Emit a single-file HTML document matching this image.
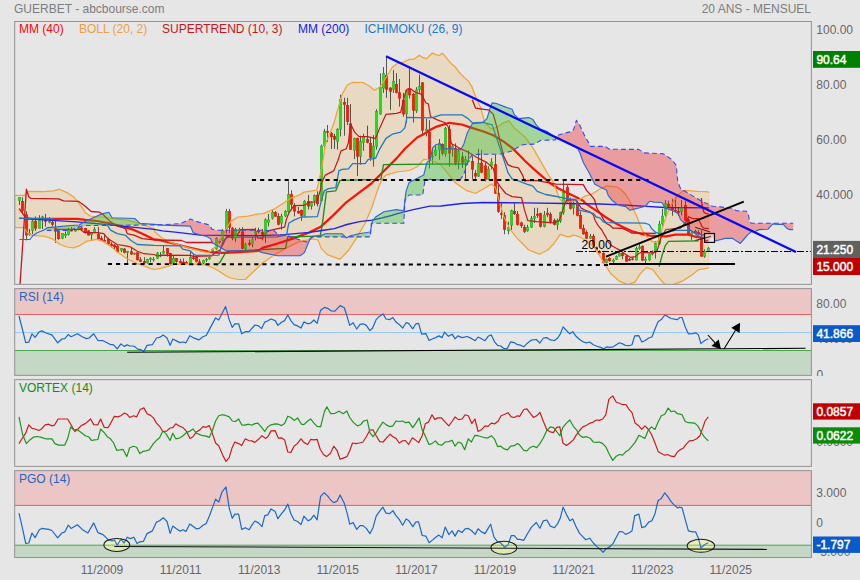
<!DOCTYPE html>
<html><head><meta charset="utf-8"><title>GUERBET</title>
<style>html,body{margin:0;padding:0;background:#e6e6e6}svg{display:block}</style></head>
<body>
<svg width="860" height="580" viewBox="0 0 860 580" font-family="Liberation Sans, sans-serif" font-size="12">
<rect width="860" height="580" fill="#e6e6e6"/>
<text x="14" y="12.5" fill="#7d7d7d">GUERBET - abcbourse.com</text>
<text x="811" y="12.5" fill="#7d7d7d" text-anchor="end">20 ANS - MENSUEL</text>
<defs>
<clipPath id="c_main"><rect x="14.7" y="21.5" width="796.6999999999999" height="262.85"/></clipPath>
<clipPath id="c_rsi"><rect x="14.7" y="288.65" width="796.6999999999999" height="86.70000000000005"/></clipPath>
<clipPath id="c_vor"><rect x="14.7" y="379.65" width="796.6999999999999" height="86.70000000000005"/></clipPath>
<clipPath id="c_pgo"><rect x="14.7" y="470.65" width="796.6999999999999" height="86.85000000000002"/></clipPath>
</defs>
<rect x="14.7" y="288.65" width="796.6999999999999" height="25.850000000000023" fill="#ecc5c5"/>
<rect x="14.7" y="350.5" width="796.6999999999999" height="24.850000000000023" fill="#c5d8c5"/>
<rect x="14.7" y="470.65" width="796.6999999999999" height="34.75" fill="#ecc5c5"/>
<rect x="14.7" y="545.2" width="796.6999999999999" height="12.299999999999955" fill="#c5d8c5"/>
<line x1="14.7" x2="811.4" y1="314.5" y2="314.5" stroke="#e86060" stroke-width="1"/>
<line x1="14.7" x2="811.4" y1="332.5" y2="332.5" stroke="#9ccbfa" stroke-width="1"/>
<line x1="14.7" x2="811.4" y1="350.5" y2="350.5" stroke="#4aa64a" stroke-width="1"/>
<line x1="14.7" x2="811.4" y1="505.4" y2="505.4" stroke="#e86060" stroke-width="1"/>
<line x1="14.7" x2="811.4" y1="545.2" y2="545.2" stroke="#4aa64a" stroke-width="1"/>
<g clip-path="url(#c_main)">
<polygon points="14.7,195.4 14.7,195.4 24.2,195.4 26.7,192.6 29.3,191.4 43.5,191.7 53.5,190.9 59.4,189.2 66.9,192.6 73.6,196.7 80.3,205.1 85.4,212.7 90.4,216.0 97.1,216.8 103.8,217.2 113.8,218.8 127.2,220.2 140.6,223.9 154.0,228.6 155.0,232.1 162.6,238.4 166.4,240.2 170.1,242.1 180.2,245.3 190.3,248.4 200.4,250.9 207.9,252.6 210.4,251.6 215.5,246.5 220.5,239.0 225.5,230.2 230.6,221.4 238.1,217.0 248.2,216.1 258.0,213.8 262.6,213.8 275.1,208.6 284.0,202.8 291.6,197.8 299.1,195.2 304.1,192.1 316.7,190.2 319.2,180.1 321.8,167.6 323.0,160.0 325.3,144.6 333.7,123.7 337.9,109.1 342.1,94.4 347.3,85.0 352.6,82.3 363.0,82.5 369.3,86.0 374.5,90.2 379.8,87.1 386.0,77.7 392.3,67.2 398.6,62.6 400.0,63.0 404.2,61.8 409.2,59.4 413.4,59.4 419.4,55.2 422.6,57.4 426.4,58.6 432.2,53.2 436.0,54.7 439.4,55.5 442.3,53.2 446.9,58.4 451.9,64.3 455.3,66.8 458.6,71.8 463.7,76.9 468.7,81.5 472.0,86.9 474.4,93.5 480.7,108.1 484.9,122.8 491.2,129.1 497.4,127.0 503.7,122.8 508.9,120.7 514.2,128.0 520.5,133.3 524.6,136.4 533.0,147.9 541.4,162.6 549.8,177.2 552.9,181.0 556.0,189.3 559.2,197.7 562.3,201.9 570.7,201.9 579.1,199.8 585.0,196.1 590.6,194.7 596.2,191.4 599.0,189.5 606.7,185.9 617.2,187.0 621.3,190.0 625.0,193.7 628.8,199.3 631.6,204.9 634.3,211.4 637.1,217.0 639.9,224.5 642.7,231.0 646.5,236.6 651.1,240.8 655.8,242.6 658.6,240.3 660.4,234.7 663.5,224.3 667.7,212.5 672.8,202.4 677.8,195.6 682.0,191.4 685.4,190.4 697.3,191.4 705.7,191.6 708.9,192.2 708.9,268.0 698.8,269.6 690.5,275.9 682.1,281.2 673.7,284.3 665.3,284.7 659.1,278.0 652.8,269.6 646.5,267.6 640.2,273.8 635.0,282.2 627.7,284.7 619.3,281.2 610.9,273.8 607.1,268.0 604.0,263.4 601.4,258.4 597.7,252.8 595.2,248.4 590.8,244.0 585.7,240.2 579.4,236.7 573.8,235.1 570.0,236.7 566.5,236.4 560.2,234.3 553.9,243.7 547.7,250.0 539.3,254.2 528.8,250.0 522.6,243.7 516.3,237.4 510.0,229.1 503.7,216.5 499.5,201.9 495.3,187.2 491.2,184.1 482.8,189.3 475.5,193.5 466.0,190.3 455.6,183.0 447.2,172.6 439.9,164.2 430.0,160.0 423.7,159.4 417.4,166.7 409.1,170.5 396.5,172.0 386.0,175.1 381.9,179.3 377.7,189.8 371.4,208.6 365.1,223.3 356.7,237.9 348.4,250.5 340.0,259.3 327.4,254.6 321.2,248.4 318.0,240.0 312.8,238.9 298.1,242.1 285.6,248.4 273.0,255.7 262.6,263.0 254.2,271.0 245.7,279.3 238.1,279.5 230.6,278.0 225.5,275.5 218.0,270.5 210.4,266.7 205.4,264.8 190.3,263.9 175.2,264.2 170.1,265.4 162.6,267.9 155.0,269.5 150.0,268.6 147.3,267.1 137.3,263.7 127.2,258.7 117.2,252.0 110.5,246.1 103.8,242.0 97.1,239.4 87.0,241.1 80.3,245.3 73.6,247.8 66.9,247.0 60.2,244.5 51.9,238.6 43.5,236.1 31.8,235.3 26.7,231.9 24.2,227.7 14.7,227.7 14.7,227.7" fill="#ecb45c" fill-opacity="0.26"/>
<rect x="19" y="197.3" width="1" height="7.6" fill="#000" fill-opacity="0.62"/>
<rect x="18.25" y="197.6" width="2.5" height="2.9" fill="#14e614" stroke="#2aa82a" stroke-width="0.5"/>
<rect x="22" y="197.3" width="1" height="16.0" fill="#000" fill-opacity="0.62"/>
<rect x="21.25" y="201.3" width="2.5" height="9.2" fill="#ff1a05" stroke="#d41606" stroke-width="0.5"/>
<rect x="26" y="211.4" width="1" height="29.0" fill="#000" fill-opacity="0.62"/>
<rect x="25.25" y="214.8" width="2.5" height="20.3" fill="#ff1a05" stroke="#d41606" stroke-width="0.5"/>
<rect x="29" y="229.0" width="1" height="6.9" fill="#000" fill-opacity="0.62"/>
<rect x="28.25" y="233.4" width="2.5" height="0.8" fill="#14e614" stroke="#2aa82a" stroke-width="0.5"/>
<rect x="32" y="219.6" width="1" height="14.5" fill="#000" fill-opacity="0.62"/>
<rect x="31.25" y="221.5" width="2.5" height="8.8" fill="#14e614" stroke="#2aa82a" stroke-width="0.5"/>
<rect x="35" y="216.4" width="1" height="14.5" fill="#000" fill-opacity="0.62"/>
<rect x="34.25" y="221.1" width="2.5" height="7.1" fill="#ff1a05" stroke="#d41606" stroke-width="0.5"/>
<rect x="39" y="215.2" width="1" height="13.2" fill="#000" fill-opacity="0.62"/>
<rect x="38.25" y="220.5" width="2.5" height="7.7" fill="#14e614" stroke="#2aa82a" stroke-width="0.5"/>
<rect x="42" y="215.8" width="1" height="13.2" fill="#000" fill-opacity="0.62"/>
<rect x="41.25" y="216.9" width="2.5" height="1.1" fill="#14e614" stroke="#2aa82a" stroke-width="0.5"/>
<rect x="45" y="213.9" width="1" height="12.6" fill="#000" fill-opacity="0.62"/>
<rect x="44.25" y="219.5" width="2.5" height="1.8" fill="#ff1a05" stroke="#d41606" stroke-width="0.5"/>
<rect x="49" y="217.1" width="1" height="6.3" fill="#000" fill-opacity="0.62"/>
<rect x="48.25" y="221.5" width="2.5" height="0.8" fill="#14e614" stroke="#2aa82a" stroke-width="0.5"/>
<rect x="52" y="220.8" width="1" height="5.7" fill="#000" fill-opacity="0.62"/>
<rect x="51.25" y="222.3" width="2.5" height="2.0" fill="#ff1a05" stroke="#d41606" stroke-width="0.5"/>
<rect x="55" y="219.6" width="1" height="23.3" fill="#000" fill-opacity="0.62"/>
<rect x="54.25" y="228.6" width="2.5" height="2.6" fill="#ff1a05" stroke="#d41606" stroke-width="0.5"/>
<rect x="58" y="230.3" width="1" height="9.4" fill="#000" fill-opacity="0.62"/>
<rect x="57.25" y="231.5" width="2.5" height="7.3" fill="#ff1a05" stroke="#d41606" stroke-width="0.5"/>
<rect x="62" y="233.4" width="1" height="5.7" fill="#000" fill-opacity="0.62"/>
<rect x="61.25" y="233.7" width="2.5" height="4.5" fill="#14e614" stroke="#2aa82a" stroke-width="0.5"/>
<rect x="65" y="231.5" width="1" height="6.3" fill="#000" fill-opacity="0.62"/>
<rect x="64.25" y="234.3" width="2.5" height="1.0" fill="#14e614" stroke="#2aa82a" stroke-width="0.5"/>
<rect x="68" y="227.8" width="1" height="7.6" fill="#000" fill-opacity="0.62"/>
<rect x="67.25" y="229.5" width="2.5" height="4.9" fill="#14e614" stroke="#2aa82a" stroke-width="0.5"/>
<rect x="71" y="227.1" width="1" height="4.4" fill="#000" fill-opacity="0.62"/>
<rect x="70.25" y="229.9" width="2.5" height="1.1" fill="#ff1a05" stroke="#d41606" stroke-width="0.5"/>
<rect x="75" y="229.0" width="1" height="2.5" fill="#000" fill-opacity="0.62"/>
<rect x="74.25" y="230.3" width="2.5" height="0.8" fill="#14e614" stroke="#2aa82a" stroke-width="0.5"/>
<rect x="78" y="226.3" width="1" height="4.0" fill="#000" fill-opacity="0.62"/>
<rect x="77.25" y="227.4" width="2.5" height="2.0" fill="#14e614" stroke="#2aa82a" stroke-width="0.5"/>
<rect x="81" y="227.1" width="1" height="3.8" fill="#000" fill-opacity="0.62"/>
<rect x="80.25" y="228.0" width="2.5" height="1.4" fill="#ff1a05" stroke="#d41606" stroke-width="0.5"/>
<rect x="85" y="227.8" width="1" height="5.7" fill="#000" fill-opacity="0.62"/>
<rect x="84.25" y="228.6" width="2.5" height="3.9" fill="#ff1a05" stroke="#d41606" stroke-width="0.5"/>
<rect x="88" y="230.0" width="1" height="5.5" fill="#000" fill-opacity="0.62"/>
<rect x="87.25" y="230.8" width="2.5" height="4.3" fill="#ff1a05" stroke="#d41606" stroke-width="0.5"/>
<rect x="91" y="232.2" width="1" height="7.6" fill="#000" fill-opacity="0.62"/>
<rect x="90.25" y="233.3" width="2.5" height="1.5" fill="#14e614" stroke="#2aa82a" stroke-width="0.5"/>
<rect x="94" y="227.1" width="1" height="6.3" fill="#000" fill-opacity="0.62"/>
<rect x="93.25" y="229.5" width="2.5" height="3.0" fill="#14e614" stroke="#2aa82a" stroke-width="0.5"/>
<rect x="98" y="227.1" width="1" height="12.6" fill="#000" fill-opacity="0.62"/>
<rect x="97.25" y="234.3" width="2.5" height="4.5" fill="#ff1a05" stroke="#d41606" stroke-width="0.5"/>
<rect x="101" y="235.9" width="1" height="4.7" fill="#000" fill-opacity="0.62"/>
<rect x="100.25" y="238.7" width="2.5" height="1.4" fill="#ff1a05" stroke="#d41606" stroke-width="0.5"/>
<rect x="104" y="234.1" width="1" height="6.9" fill="#000" fill-opacity="0.62"/>
<rect x="103.25" y="240.4" width="2.5" height="0.8" fill="#ff1a05" stroke="#d41606" stroke-width="0.5"/>
<rect x="108" y="237.8" width="1" height="7.6" fill="#000" fill-opacity="0.62"/>
<rect x="107.25" y="239.3" width="2.5" height="4.5" fill="#ff1a05" stroke="#d41606" stroke-width="0.5"/>
<rect x="111" y="242.2" width="1" height="5.0" fill="#000" fill-opacity="0.62"/>
<rect x="110.25" y="244.4" width="2.5" height="1.4" fill="#ff1a05" stroke="#d41606" stroke-width="0.5"/>
<rect x="114" y="244.1" width="1" height="5.0" fill="#000" fill-opacity="0.62"/>
<rect x="113.25" y="245.0" width="2.5" height="2.0" fill="#ff1a05" stroke="#d41606" stroke-width="0.5"/>
<rect x="117" y="245.2" width="1" height="7.6" fill="#000" fill-opacity="0.62"/>
<rect x="116.25" y="246.5" width="2.5" height="5.4" fill="#ff1a05" stroke="#d41606" stroke-width="0.5"/>
<rect x="121" y="248.0" width="1" height="4.2" fill="#000" fill-opacity="0.62"/>
<rect x="120.25" y="248.6" width="2.5" height="2.0" fill="#14e614" stroke="#2aa82a" stroke-width="0.5"/>
<rect x="124" y="248.0" width="1" height="5.4" fill="#000" fill-opacity="0.62"/>
<rect x="123.25" y="249.0" width="2.5" height="3.5" fill="#ff1a05" stroke="#d41606" stroke-width="0.5"/>
<rect x="127" y="250.9" width="1" height="12.6" fill="#000" fill-opacity="0.62"/>
<rect x="126.25" y="251.5" width="2.5" height="1.0" fill="#14e614" stroke="#2aa82a" stroke-width="0.5"/>
<rect x="131" y="247.1" width="1" height="7.6" fill="#000" fill-opacity="0.62"/>
<rect x="130.25" y="251.8" width="2.5" height="2.3" fill="#ff1a05" stroke="#d41606" stroke-width="0.5"/>
<rect x="134" y="252.5" width="1" height="2.3" fill="#000" fill-opacity="0.62"/>
<rect x="133.25" y="253.3" width="2.5" height="0.9" fill="#14e614" stroke="#2aa82a" stroke-width="0.5"/>
<rect x="137" y="252.1" width="1" height="8.4" fill="#000" fill-opacity="0.62"/>
<rect x="136.25" y="252.8" width="2.5" height="7.1" fill="#ff1a05" stroke="#d41606" stroke-width="0.5"/>
<rect x="140" y="257.2" width="1" height="5.0" fill="#000" fill-opacity="0.62"/>
<rect x="139.25" y="259.9" width="2.5" height="1.4" fill="#ff1a05" stroke="#d41606" stroke-width="0.5"/>
<rect x="144" y="257.2" width="1" height="6.3" fill="#000" fill-opacity="0.62"/>
<rect x="143.25" y="261.6" width="2.5" height="1.3" fill="#ff1a05" stroke="#d41606" stroke-width="0.5"/>
<rect x="147" y="258.8" width="1" height="4.7" fill="#000" fill-opacity="0.62"/>
<rect x="146.25" y="259.6" width="2.5" height="3.3" fill="#14e614" stroke="#2aa82a" stroke-width="0.5"/>
<rect x="150" y="257.2" width="1" height="5.0" fill="#000" fill-opacity="0.62"/>
<rect x="149.25" y="258.3" width="2.5" height="1.1" fill="#14e614" stroke="#2aa82a" stroke-width="0.5"/>
<rect x="153" y="257.2" width="1" height="4.4" fill="#000" fill-opacity="0.62"/>
<rect x="152.25" y="259.2" width="2.5" height="0.8" fill="#14e614" stroke="#2aa82a" stroke-width="0.5"/>
<rect x="157" y="252.1" width="1" height="6.7" fill="#000" fill-opacity="0.62"/>
<rect x="156.25" y="253.0" width="2.5" height="5.2" fill="#14e614" stroke="#2aa82a" stroke-width="0.5"/>
<rect x="160" y="252.1" width="1" height="5.0" fill="#000" fill-opacity="0.62"/>
<rect x="159.25" y="255.3" width="2.5" height="0.8" fill="#14e614" stroke="#2aa82a" stroke-width="0.5"/>
<rect x="163" y="245.2" width="1" height="8.6" fill="#000" fill-opacity="0.62"/>
<rect x="162.25" y="251.5" width="2.5" height="1.6" fill="#14e614" stroke="#2aa82a" stroke-width="0.5"/>
<rect x="167" y="248.0" width="1" height="8.6" fill="#000" fill-opacity="0.62"/>
<rect x="166.25" y="248.6" width="2.5" height="5.2" fill="#ff1a05" stroke="#d41606" stroke-width="0.5"/>
<rect x="170" y="252.8" width="1" height="12.0" fill="#000" fill-opacity="0.62"/>
<rect x="169.25" y="253.6" width="2.5" height="10.2" fill="#ff1a05" stroke="#d41606" stroke-width="0.5"/>
<rect x="173" y="255.9" width="1" height="8.2" fill="#000" fill-opacity="0.62"/>
<rect x="172.25" y="258.7" width="2.5" height="4.5" fill="#14e614" stroke="#2aa82a" stroke-width="0.5"/>
<rect x="176" y="258.1" width="1" height="4.5" fill="#000" fill-opacity="0.62"/>
<rect x="175.25" y="258.7" width="2.5" height="2.9" fill="#ff1a05" stroke="#d41606" stroke-width="0.5"/>
<rect x="180" y="258.8" width="1" height="4.7" fill="#000" fill-opacity="0.62"/>
<rect x="179.25" y="261.6" width="2.5" height="1.3" fill="#ff1a05" stroke="#d41606" stroke-width="0.5"/>
<rect x="183" y="258.4" width="1" height="5.0" fill="#000" fill-opacity="0.62"/>
<rect x="182.25" y="262.1" width="2.5" height="0.8" fill="#ff1a05" stroke="#d41606" stroke-width="0.5"/>
<rect x="186" y="260.9" width="1" height="3.1" fill="#000" fill-opacity="0.62"/>
<rect x="185.25" y="262.5" width="2.5" height="0.8" fill="#ff1a05" stroke="#d41606" stroke-width="0.5"/>
<rect x="190" y="250.9" width="1" height="13.0" fill="#000" fill-opacity="0.62"/>
<rect x="189.25" y="257.4" width="2.5" height="5.8" fill="#14e614" stroke="#2aa82a" stroke-width="0.5"/>
<rect x="193" y="254.0" width="1" height="5.7" fill="#000" fill-opacity="0.62"/>
<rect x="192.25" y="257.8" width="2.5" height="1.0" fill="#ff1a05" stroke="#d41606" stroke-width="0.5"/>
<rect x="196" y="256.5" width="1" height="6.0" fill="#000" fill-opacity="0.62"/>
<rect x="195.25" y="257.4" width="2.5" height="3.9" fill="#ff1a05" stroke="#d41606" stroke-width="0.5"/>
<rect x="199" y="259.1" width="1" height="4.4" fill="#000" fill-opacity="0.62"/>
<rect x="198.25" y="261.8" width="2.5" height="0.8" fill="#ff1a05" stroke="#d41606" stroke-width="0.5"/>
<rect x="203" y="259.7" width="1" height="4.4" fill="#000" fill-opacity="0.62"/>
<rect x="202.25" y="260.6" width="2.5" height="2.6" fill="#14e614" stroke="#2aa82a" stroke-width="0.5"/>
<rect x="206" y="257.8" width="1" height="4.0" fill="#000" fill-opacity="0.62"/>
<rect x="205.25" y="259.3" width="2.5" height="0.8" fill="#14e614" stroke="#2aa82a" stroke-width="0.5"/>
<rect x="209" y="256.5" width="1" height="3.1" fill="#000" fill-opacity="0.62"/>
<rect x="208.25" y="257.4" width="2.5" height="1.6" fill="#14e614" stroke="#2aa82a" stroke-width="0.5"/>
<rect x="212" y="248.4" width="1" height="4.4" fill="#000" fill-opacity="0.62"/>
<rect x="211.25" y="249.5" width="2.5" height="2.0" fill="#14e614" stroke="#2aa82a" stroke-width="0.5"/>
<rect x="216" y="237.2" width="1" height="12.6" fill="#000" fill-opacity="0.62"/>
<rect x="215.25" y="238.7" width="2.5" height="10.2" fill="#14e614" stroke="#2aa82a" stroke-width="0.5"/>
<rect x="219" y="239.7" width="1" height="3.8" fill="#000" fill-opacity="0.62"/>
<rect x="218.25" y="241.2" width="2.5" height="0.8" fill="#ff1a05" stroke="#d41606" stroke-width="0.5"/>
<rect x="222" y="229.0" width="1" height="12.0" fill="#000" fill-opacity="0.62"/>
<rect x="221.25" y="230.8" width="2.5" height="9.3" fill="#14e614" stroke="#2aa82a" stroke-width="0.5"/>
<rect x="226" y="208.9" width="1" height="24.5" fill="#000" fill-opacity="0.62"/>
<rect x="225.25" y="211.4" width="2.5" height="17.4" fill="#14e614" stroke="#2aa82a" stroke-width="0.5"/>
<rect x="229" y="208.9" width="1" height="24.5" fill="#000" fill-opacity="0.62"/>
<rect x="228.25" y="211.4" width="2.5" height="15.9" fill="#ff1a05" stroke="#d41606" stroke-width="0.5"/>
<rect x="232" y="227.1" width="1" height="13.2" fill="#000" fill-opacity="0.62"/>
<rect x="231.25" y="228.0" width="2.5" height="10.1" fill="#ff1a05" stroke="#d41606" stroke-width="0.5"/>
<rect x="235" y="227.8" width="1" height="14.1" fill="#000" fill-opacity="0.62"/>
<rect x="234.25" y="229.3" width="2.5" height="9.1" fill="#14e614" stroke="#2aa82a" stroke-width="0.5"/>
<rect x="239" y="227.8" width="1" height="5.0" fill="#000" fill-opacity="0.62"/>
<rect x="238.25" y="229.3" width="2.5" height="1.4" fill="#14e614" stroke="#2aa82a" stroke-width="0.5"/>
<rect x="242" y="227.1" width="1" height="22.0" fill="#000" fill-opacity="0.62"/>
<rect x="241.25" y="231.8" width="2.5" height="16.5" fill="#ff1a05" stroke="#d41606" stroke-width="0.5"/>
<rect x="245" y="242.9" width="1" height="6.9" fill="#000" fill-opacity="0.62"/>
<rect x="244.25" y="244.4" width="2.5" height="3.9" fill="#14e614" stroke="#2aa82a" stroke-width="0.5"/>
<rect x="249" y="239.7" width="1" height="6.3" fill="#000" fill-opacity="0.62"/>
<rect x="248.25" y="243.1" width="2.5" height="1.4" fill="#ff1a05" stroke="#d41606" stroke-width="0.5"/>
<rect x="252" y="237.2" width="1" height="10.1" fill="#000" fill-opacity="0.62"/>
<rect x="251.25" y="239.1" width="2.5" height="4.8" fill="#14e614" stroke="#2aa82a" stroke-width="0.5"/>
<rect x="255" y="227.8" width="1" height="12.6" fill="#000" fill-opacity="0.62"/>
<rect x="254.25" y="231.2" width="2.5" height="2.6" fill="#14e614" stroke="#2aa82a" stroke-width="0.5"/>
<rect x="258" y="227.8" width="1" height="5.7" fill="#000" fill-opacity="0.62"/>
<rect x="257.25" y="230.5" width="2.5" height="1.4" fill="#ff1a05" stroke="#d41606" stroke-width="0.5"/>
<rect x="262" y="229.0" width="1" height="11.3" fill="#000" fill-opacity="0.62"/>
<rect x="261.25" y="232.4" width="2.5" height="3.3" fill="#ff1a05" stroke="#d41606" stroke-width="0.5"/>
<rect x="265" y="218.3" width="1" height="24.5" fill="#000" fill-opacity="0.62"/>
<rect x="264.25" y="219.8" width="2.5" height="14.6" fill="#14e614" stroke="#2aa82a" stroke-width="0.5"/>
<rect x="268" y="213.9" width="1" height="12.6" fill="#000" fill-opacity="0.62"/>
<rect x="267.25" y="219.8" width="2.5" height="2.6" fill="#14e614" stroke="#2aa82a" stroke-width="0.5"/>
<rect x="272" y="210.1" width="1" height="9.4" fill="#000" fill-opacity="0.62"/>
<rect x="271.25" y="212.3" width="2.5" height="5.8" fill="#14e614" stroke="#2aa82a" stroke-width="0.5"/>
<rect x="275" y="211.1" width="1" height="5.9" fill="#000" fill-opacity="0.62"/>
<rect x="274.25" y="212.7" width="2.5" height="3.5" fill="#ff1a05" stroke="#d41606" stroke-width="0.5"/>
<rect x="278" y="213.3" width="1" height="12.0" fill="#000" fill-opacity="0.62"/>
<rect x="277.25" y="216.7" width="2.5" height="7.7" fill="#ff1a05" stroke="#d41606" stroke-width="0.5"/>
<rect x="281" y="213.9" width="1" height="15.7" fill="#000" fill-opacity="0.62"/>
<rect x="280.25" y="216.4" width="2.5" height="6.7" fill="#14e614" stroke="#2aa82a" stroke-width="0.5"/>
<rect x="285" y="210.1" width="1" height="6.9" fill="#000" fill-opacity="0.62"/>
<rect x="284.25" y="211.4" width="2.5" height="4.5" fill="#14e614" stroke="#2aa82a" stroke-width="0.5"/>
<rect x="288" y="181.2" width="1" height="31.5" fill="#000" fill-opacity="0.62"/>
<rect x="287.25" y="194.7" width="2.5" height="17.1" fill="#14e614" stroke="#2aa82a" stroke-width="0.5"/>
<rect x="291" y="190.3" width="1" height="19.9" fill="#000" fill-opacity="0.62"/>
<rect x="290.25" y="194.7" width="2.5" height="9.6" fill="#ff1a05" stroke="#d41606" stroke-width="0.5"/>
<rect x="294" y="203.2" width="1" height="13.2" fill="#000" fill-opacity="0.62"/>
<rect x="293.25" y="205.6" width="2.5" height="5.5" fill="#ff1a05" stroke="#d41606" stroke-width="0.5"/>
<rect x="298" y="207.0" width="1" height="6.9" fill="#000" fill-opacity="0.62"/>
<rect x="297.25" y="211.4" width="2.5" height="1.6" fill="#ff1a05" stroke="#d41606" stroke-width="0.5"/>
<rect x="301" y="209.5" width="1" height="11.3" fill="#000" fill-opacity="0.62"/>
<rect x="300.25" y="210.4" width="2.5" height="5.2" fill="#ff1a05" stroke="#d41606" stroke-width="0.5"/>
<rect x="304" y="200.1" width="1" height="16.4" fill="#000" fill-opacity="0.62"/>
<rect x="303.25" y="201.3" width="2.5" height="14.2" fill="#14e614" stroke="#2aa82a" stroke-width="0.5"/>
<rect x="308" y="195.0" width="1" height="14.5" fill="#000" fill-opacity="0.62"/>
<rect x="307.25" y="201.6" width="2.5" height="4.5" fill="#ff1a05" stroke="#d41606" stroke-width="0.5"/>
<rect x="311" y="201.3" width="1" height="8.2" fill="#000" fill-opacity="0.62"/>
<rect x="310.25" y="202.2" width="2.5" height="3.9" fill="#14e614" stroke="#2aa82a" stroke-width="0.5"/>
<rect x="314" y="194.4" width="1" height="11.3" fill="#000" fill-opacity="0.62"/>
<rect x="313.25" y="195.5" width="2.5" height="5.3" fill="#14e614" stroke="#2aa82a" stroke-width="0.5"/>
<rect x="317" y="191.3" width="1" height="15.1" fill="#000" fill-opacity="0.62"/>
<rect x="316.25" y="195.5" width="2.5" height="8.3" fill="#ff1a05" stroke="#d41606" stroke-width="0.5"/>
<rect x="321" y="144.5" width="1" height="57.3" fill="#000" fill-opacity="0.62"/>
<rect x="320.25" y="146.1" width="2.5" height="54.6" fill="#14e614" stroke="#2aa82a" stroke-width="0.5"/>
<rect x="324" y="128.8" width="1" height="20.8" fill="#000" fill-opacity="0.62"/>
<rect x="323.25" y="131.6" width="2.5" height="14.0" fill="#14e614" stroke="#2aa82a" stroke-width="0.5"/>
<rect x="327" y="125.0" width="1" height="17.0" fill="#000" fill-opacity="0.62"/>
<rect x="326.25" y="131.3" width="2.5" height="1.0" fill="#ff1a05" stroke="#d41606" stroke-width="0.5"/>
<rect x="331" y="132.0" width="1" height="17.0" fill="#000" fill-opacity="0.62"/>
<rect x="330.25" y="133.5" width="2.5" height="3.3" fill="#ff1a05" stroke="#d41606" stroke-width="0.5"/>
<rect x="334" y="133.8" width="1" height="15.1" fill="#000" fill-opacity="0.62"/>
<rect x="333.25" y="136.6" width="2.5" height="2.6" fill="#ff1a05" stroke="#d41606" stroke-width="0.5"/>
<rect x="337" y="128.2" width="1" height="21.4" fill="#000" fill-opacity="0.62"/>
<rect x="336.25" y="129.3" width="2.5" height="12.1" fill="#14e614" stroke="#2aa82a" stroke-width="0.5"/>
<rect x="340" y="94.7" width="1" height="41.7" fill="#000" fill-opacity="0.62"/>
<rect x="339.25" y="99.3" width="2.5" height="29.8" fill="#14e614" stroke="#2aa82a" stroke-width="0.5"/>
<rect x="344" y="97.8" width="1" height="37.9" fill="#000" fill-opacity="0.62"/>
<rect x="343.25" y="102.5" width="2.5" height="2.1" fill="#ff1a05" stroke="#d41606" stroke-width="0.5"/>
<rect x="347" y="97.8" width="1" height="27.2" fill="#000" fill-opacity="0.62"/>
<rect x="346.25" y="105.3" width="2.5" height="16.2" fill="#ff1a05" stroke="#d41606" stroke-width="0.5"/>
<rect x="350" y="104.1" width="1" height="45.7" fill="#000" fill-opacity="0.62"/>
<rect x="349.25" y="123.8" width="2.5" height="25.6" fill="#ff1a05" stroke="#d41606" stroke-width="0.5"/>
<rect x="354" y="137.6" width="1" height="21.4" fill="#000" fill-opacity="0.62"/>
<rect x="353.25" y="138.5" width="2.5" height="12.1" fill="#14e614" stroke="#2aa82a" stroke-width="0.5"/>
<rect x="357" y="137.6" width="1" height="38.4" fill="#000" fill-opacity="0.62"/>
<rect x="356.25" y="138.5" width="2.5" height="17.8" fill="#ff1a05" stroke="#d41606" stroke-width="0.5"/>
<rect x="360" y="135.7" width="1" height="29.0" fill="#000" fill-opacity="0.62"/>
<rect x="359.25" y="141.6" width="2.5" height="14.6" fill="#14e614" stroke="#2aa82a" stroke-width="0.5"/>
<rect x="363" y="133.8" width="1" height="17.0" fill="#000" fill-opacity="0.62"/>
<rect x="362.25" y="137.2" width="2.5" height="5.2" fill="#14e614" stroke="#2aa82a" stroke-width="0.5"/>
<rect x="367" y="125.7" width="1" height="17.6" fill="#000" fill-opacity="0.62"/>
<rect x="366.25" y="139.4" width="2.5" height="3.0" fill="#ff1a05" stroke="#d41606" stroke-width="0.5"/>
<rect x="370" y="137.6" width="1" height="23.3" fill="#000" fill-opacity="0.62"/>
<rect x="369.25" y="143.5" width="2.5" height="14.0" fill="#ff1a05" stroke="#d41606" stroke-width="0.5"/>
<rect x="373" y="135.1" width="1" height="31.5" fill="#000" fill-opacity="0.62"/>
<rect x="372.25" y="146.7" width="2.5" height="10.8" fill="#14e614" stroke="#2aa82a" stroke-width="0.5"/>
<rect x="376" y="109.2" width="1" height="40.4" fill="#000" fill-opacity="0.62"/>
<rect x="375.25" y="111.3" width="2.5" height="34.8" fill="#14e614" stroke="#2aa82a" stroke-width="0.5"/>
<rect x="380" y="73.3" width="1" height="41.5" fill="#000" fill-opacity="0.62"/>
<rect x="379.25" y="87.4" width="2.5" height="26.6" fill="#14e614" stroke="#2aa82a" stroke-width="0.5"/>
<rect x="383" y="67.0" width="1" height="25.8" fill="#000" fill-opacity="0.62"/>
<rect x="382.25" y="73.5" width="2.5" height="14.6" fill="#14e614" stroke="#2aa82a" stroke-width="0.5"/>
<rect x="386" y="56.9" width="1" height="40.9" fill="#000" fill-opacity="0.62"/>
<rect x="385.25" y="75.4" width="2.5" height="14.0" fill="#ff1a05" stroke="#d41606" stroke-width="0.5"/>
<rect x="390" y="87.1" width="1" height="22.7" fill="#000" fill-opacity="0.62"/>
<rect x="389.25" y="88.0" width="2.5" height="3.3" fill="#ff1a05" stroke="#d41606" stroke-width="0.5"/>
<rect x="393" y="70.1" width="1" height="22.7" fill="#000" fill-opacity="0.62"/>
<rect x="392.25" y="81.5" width="2.5" height="7.9" fill="#14e614" stroke="#2aa82a" stroke-width="0.5"/>
<rect x="396" y="73.3" width="1" height="20.1" fill="#000" fill-opacity="0.62"/>
<rect x="395.25" y="84.5" width="2.5" height="8.1" fill="#ff1a05" stroke="#d41606" stroke-width="0.5"/>
<rect x="399" y="79.0" width="1" height="27.7" fill="#000" fill-opacity="0.62"/>
<rect x="398.25" y="92.8" width="2.5" height="5.4" fill="#ff1a05" stroke="#d41606" stroke-width="0.5"/>
<rect x="403" y="92.8" width="1" height="23.9" fill="#000" fill-opacity="0.62"/>
<rect x="402.25" y="100.0" width="2.5" height="14.0" fill="#ff1a05" stroke="#d41606" stroke-width="0.5"/>
<rect x="406" y="89.7" width="1" height="33.4" fill="#000" fill-opacity="0.62"/>
<rect x="405.25" y="90.5" width="2.5" height="23.4" fill="#14e614" stroke="#2aa82a" stroke-width="0.5"/>
<rect x="409" y="66.4" width="1" height="32.1" fill="#000" fill-opacity="0.62"/>
<rect x="408.25" y="88.6" width="2.5" height="6.4" fill="#ff1a05" stroke="#d41606" stroke-width="0.5"/>
<rect x="413" y="92.8" width="1" height="29.7" fill="#000" fill-opacity="0.62"/>
<rect x="412.25" y="94.3" width="2.5" height="15.9" fill="#ff1a05" stroke="#d41606" stroke-width="0.5"/>
<rect x="416" y="87.1" width="1" height="25.8" fill="#000" fill-opacity="0.62"/>
<rect x="415.25" y="89.9" width="2.5" height="20.9" fill="#14e614" stroke="#2aa82a" stroke-width="0.5"/>
<rect x="419" y="74.5" width="1" height="18.3" fill="#000" fill-opacity="0.62"/>
<rect x="418.25" y="86.5" width="2.5" height="2.9" fill="#14e614" stroke="#2aa82a" stroke-width="0.5"/>
<rect x="422" y="82.0" width="1" height="52.0" fill="#000" fill-opacity="0.62"/>
<rect x="421.25" y="82.8" width="2.5" height="47.4" fill="#ff1a05" stroke="#d41606" stroke-width="0.5"/>
<rect x="426" y="118.8" width="1" height="17.6" fill="#000" fill-opacity="0.62"/>
<rect x="425.25" y="129.2" width="2.5" height="1.4" fill="#14e614" stroke="#2aa82a" stroke-width="0.5"/>
<rect x="429" y="120.1" width="1" height="48.5" fill="#000" fill-opacity="0.62"/>
<rect x="428.25" y="132.3" width="2.5" height="27.8" fill="#ff1a05" stroke="#d41606" stroke-width="0.5"/>
<rect x="432" y="149.1" width="1" height="15.1" fill="#000" fill-opacity="0.62"/>
<rect x="431.25" y="156.2" width="2.5" height="0.8" fill="#14e614" stroke="#2aa82a" stroke-width="0.5"/>
<rect x="435" y="145.3" width="1" height="10.7" fill="#000" fill-opacity="0.62"/>
<rect x="434.25" y="150.6" width="2.5" height="4.5" fill="#14e614" stroke="#2aa82a" stroke-width="0.5"/>
<rect x="439" y="139.0" width="1" height="20.8" fill="#000" fill-opacity="0.62"/>
<rect x="438.25" y="143.6" width="2.5" height="6.4" fill="#14e614" stroke="#2aa82a" stroke-width="0.5"/>
<rect x="442" y="143.4" width="1" height="12.0" fill="#000" fill-opacity="0.62"/>
<rect x="441.25" y="144.3" width="2.5" height="8.9" fill="#ff1a05" stroke="#d41606" stroke-width="0.5"/>
<rect x="445" y="127.0" width="1" height="29.6" fill="#000" fill-opacity="0.62"/>
<rect x="444.25" y="128.3" width="2.5" height="25.6" fill="#14e614" stroke="#2aa82a" stroke-width="0.5"/>
<rect x="449" y="125.1" width="1" height="41.5" fill="#000" fill-opacity="0.62"/>
<rect x="448.25" y="129.2" width="2.5" height="24.0" fill="#ff1a05" stroke="#d41606" stroke-width="0.5"/>
<rect x="452" y="144.7" width="1" height="12.0" fill="#000" fill-opacity="0.62"/>
<rect x="451.25" y="146.2" width="2.5" height="2.6" fill="#14e614" stroke="#2aa82a" stroke-width="0.5"/>
<rect x="455" y="143.4" width="1" height="22.0" fill="#000" fill-opacity="0.62"/>
<rect x="454.25" y="148.7" width="2.5" height="14.6" fill="#ff1a05" stroke="#d41606" stroke-width="0.5"/>
<rect x="458" y="148.4" width="1" height="20.8" fill="#000" fill-opacity="0.62"/>
<rect x="457.25" y="151.2" width="2.5" height="10.8" fill="#14e614" stroke="#2aa82a" stroke-width="0.5"/>
<rect x="462" y="152.2" width="1" height="15.7" fill="#000" fill-opacity="0.62"/>
<rect x="461.25" y="156.9" width="2.5" height="5.8" fill="#ff1a05" stroke="#d41606" stroke-width="0.5"/>
<rect x="465" y="156.0" width="1" height="23.3" fill="#000" fill-opacity="0.62"/>
<rect x="464.25" y="159.6" width="2.5" height="2.4" fill="#14e614" stroke="#2aa82a" stroke-width="0.5"/>
<rect x="468" y="150.3" width="1" height="12.0" fill="#000" fill-opacity="0.62"/>
<rect x="467.25" y="160.3" width="2.5" height="1.1" fill="#14e614" stroke="#2aa82a" stroke-width="0.5"/>
<rect x="472" y="156.2" width="1" height="22.7" fill="#000" fill-opacity="0.62"/>
<rect x="471.25" y="161.3" width="2.5" height="7.9" fill="#ff1a05" stroke="#d41606" stroke-width="0.5"/>
<rect x="475" y="170.1" width="1" height="8.8" fill="#000" fill-opacity="0.62"/>
<rect x="474.25" y="173.5" width="2.5" height="2.6" fill="#ff1a05" stroke="#d41606" stroke-width="0.5"/>
<rect x="478" y="148.7" width="1" height="28.3" fill="#000" fill-opacity="0.62"/>
<rect x="477.25" y="163.4" width="2.5" height="12.7" fill="#14e614" stroke="#2aa82a" stroke-width="0.5"/>
<rect x="481" y="149.9" width="1" height="23.3" fill="#000" fill-opacity="0.62"/>
<rect x="480.25" y="163.0" width="2.5" height="9.3" fill="#ff1a05" stroke="#d41606" stroke-width="0.5"/>
<rect x="485" y="162.5" width="1" height="18.9" fill="#000" fill-opacity="0.62"/>
<rect x="484.25" y="165.9" width="2.5" height="13.3" fill="#ff1a05" stroke="#d41606" stroke-width="0.5"/>
<rect x="488" y="166.3" width="1" height="13.8" fill="#000" fill-opacity="0.62"/>
<rect x="487.25" y="169.1" width="2.5" height="10.2" fill="#14e614" stroke="#2aa82a" stroke-width="0.5"/>
<rect x="491" y="158.1" width="1" height="11.3" fill="#000" fill-opacity="0.62"/>
<rect x="490.25" y="162.1" width="2.5" height="3.9" fill="#14e614" stroke="#2aa82a" stroke-width="0.5"/>
<rect x="495" y="155.0" width="1" height="39.0" fill="#000" fill-opacity="0.62"/>
<rect x="494.25" y="164.7" width="2.5" height="28.5" fill="#ff1a05" stroke="#d41606" stroke-width="0.5"/>
<rect x="498" y="185.2" width="1" height="27.7" fill="#000" fill-opacity="0.62"/>
<rect x="497.25" y="193.6" width="2.5" height="17.8" fill="#ff1a05" stroke="#d41606" stroke-width="0.5"/>
<rect x="501" y="203.4" width="1" height="15.7" fill="#000" fill-opacity="0.62"/>
<rect x="500.25" y="213.4" width="2.5" height="1.1" fill="#ff1a05" stroke="#d41606" stroke-width="0.5"/>
<rect x="504" y="212.2" width="1" height="22.0" fill="#000" fill-opacity="0.62"/>
<rect x="503.25" y="215.6" width="2.5" height="14.0" fill="#ff1a05" stroke="#d41606" stroke-width="0.5"/>
<rect x="508" y="221.7" width="1" height="12.6" fill="#000" fill-opacity="0.62"/>
<rect x="507.25" y="227.6" width="2.5" height="3.3" fill="#14e614" stroke="#2aa82a" stroke-width="0.5"/>
<rect x="511" y="209.7" width="1" height="20.1" fill="#000" fill-opacity="0.62"/>
<rect x="510.25" y="210.6" width="2.5" height="14.6" fill="#14e614" stroke="#2aa82a" stroke-width="0.5"/>
<rect x="514" y="202.8" width="1" height="12.0" fill="#000" fill-opacity="0.62"/>
<rect x="513.25" y="211.2" width="2.5" height="2.6" fill="#ff1a05" stroke="#d41606" stroke-width="0.5"/>
<rect x="517" y="211.0" width="1" height="14.5" fill="#000" fill-opacity="0.62"/>
<rect x="516.25" y="214.4" width="2.5" height="10.2" fill="#ff1a05" stroke="#d41606" stroke-width="0.5"/>
<rect x="521" y="221.7" width="1" height="6.3" fill="#000" fill-opacity="0.62"/>
<rect x="520.25" y="222.9" width="2.5" height="2.9" fill="#ff1a05" stroke="#d41606" stroke-width="0.5"/>
<rect x="524" y="224.8" width="1" height="8.2" fill="#000" fill-opacity="0.62"/>
<rect x="523.25" y="227.6" width="2.5" height="3.9" fill="#ff1a05" stroke="#d41606" stroke-width="0.5"/>
<rect x="527" y="224.8" width="1" height="6.9" fill="#000" fill-opacity="0.62"/>
<rect x="526.25" y="227.6" width="2.5" height="3.3" fill="#14e614" stroke="#2aa82a" stroke-width="0.5"/>
<rect x="531" y="216.0" width="1" height="12.0" fill="#000" fill-opacity="0.62"/>
<rect x="530.25" y="218.4" width="2.5" height="8.7" fill="#14e614" stroke="#2aa82a" stroke-width="0.5"/>
<rect x="534" y="207.8" width="1" height="15.1" fill="#000" fill-opacity="0.62"/>
<rect x="533.25" y="216.6" width="2.5" height="2.0" fill="#14e614" stroke="#2aa82a" stroke-width="0.5"/>
<rect x="537" y="207.8" width="1" height="10.1" fill="#000" fill-opacity="0.62"/>
<rect x="536.25" y="214.1" width="2.5" height="1.3" fill="#ff1a05" stroke="#d41606" stroke-width="0.5"/>
<rect x="540" y="212.9" width="1" height="14.5" fill="#000" fill-opacity="0.62"/>
<rect x="539.25" y="213.7" width="2.5" height="12.7" fill="#ff1a05" stroke="#d41606" stroke-width="0.5"/>
<rect x="544" y="211.0" width="1" height="16.4" fill="#000" fill-opacity="0.62"/>
<rect x="543.25" y="215.0" width="2.5" height="11.5" fill="#14e614" stroke="#2aa82a" stroke-width="0.5"/>
<rect x="547" y="207.8" width="1" height="9.4" fill="#000" fill-opacity="0.62"/>
<rect x="546.25" y="213.1" width="2.5" height="1.4" fill="#ff1a05" stroke="#d41606" stroke-width="0.5"/>
<rect x="550" y="212.2" width="1" height="11.3" fill="#000" fill-opacity="0.62"/>
<rect x="549.25" y="214.4" width="2.5" height="7.1" fill="#ff1a05" stroke="#d41606" stroke-width="0.5"/>
<rect x="554" y="218.5" width="1" height="6.9" fill="#000" fill-opacity="0.62"/>
<rect x="553.25" y="220.7" width="2.5" height="3.9" fill="#ff1a05" stroke="#d41606" stroke-width="0.5"/>
<rect x="557" y="218.5" width="1" height="11.3" fill="#000" fill-opacity="0.62"/>
<rect x="556.25" y="220.7" width="2.5" height="3.9" fill="#14e614" stroke="#2aa82a" stroke-width="0.5"/>
<rect x="560" y="211.6" width="1" height="11.3" fill="#000" fill-opacity="0.62"/>
<rect x="559.25" y="212.5" width="2.5" height="8.3" fill="#14e614" stroke="#2aa82a" stroke-width="0.5"/>
<rect x="563" y="180.8" width="1" height="34.0" fill="#000" fill-opacity="0.62"/>
<rect x="562.25" y="192.3" width="2.5" height="20.3" fill="#14e614" stroke="#2aa82a" stroke-width="0.5"/>
<rect x="567" y="185.2" width="1" height="17.6" fill="#000" fill-opacity="0.62"/>
<rect x="566.25" y="187.3" width="2.5" height="14.6" fill="#ff1a05" stroke="#d41606" stroke-width="0.5"/>
<rect x="570" y="197.5" width="1" height="12.0" fill="#000" fill-opacity="0.62"/>
<rect x="569.25" y="200.9" width="2.5" height="7.7" fill="#ff1a05" stroke="#d41606" stroke-width="0.5"/>
<rect x="573" y="200.0" width="1" height="14.5" fill="#000" fill-opacity="0.62"/>
<rect x="572.25" y="204.1" width="2.5" height="3.9" fill="#14e614" stroke="#2aa82a" stroke-width="0.5"/>
<rect x="577" y="200.0" width="1" height="16.4" fill="#000" fill-opacity="0.62"/>
<rect x="576.25" y="202.8" width="2.5" height="12.7" fill="#ff1a05" stroke="#d41606" stroke-width="0.5"/>
<rect x="580" y="211.4" width="1" height="17.6" fill="#000" fill-opacity="0.62"/>
<rect x="579.25" y="215.4" width="2.5" height="13.1" fill="#ff1a05" stroke="#d41606" stroke-width="0.5"/>
<rect x="583" y="224.6" width="1" height="10.1" fill="#000" fill-opacity="0.62"/>
<rect x="582.25" y="228.6" width="2.5" height="5.4" fill="#ff1a05" stroke="#d41606" stroke-width="0.5"/>
<rect x="586" y="230.2" width="1" height="8.8" fill="#000" fill-opacity="0.62"/>
<rect x="585.25" y="232.4" width="2.5" height="5.8" fill="#ff1a05" stroke="#d41606" stroke-width="0.5"/>
<rect x="590" y="234.0" width="1" height="5.0" fill="#000" fill-opacity="0.62"/>
<rect x="589.25" y="236.2" width="2.5" height="2.0" fill="#14e614" stroke="#2aa82a" stroke-width="0.5"/>
<rect x="593" y="234.0" width="1" height="13.8" fill="#000" fill-opacity="0.62"/>
<rect x="592.25" y="236.2" width="2.5" height="10.8" fill="#ff1a05" stroke="#d41606" stroke-width="0.5"/>
<rect x="596" y="246.6" width="1" height="4.4" fill="#000" fill-opacity="0.62"/>
<rect x="595.25" y="247.5" width="2.5" height="2.6" fill="#ff1a05" stroke="#d41606" stroke-width="0.5"/>
<rect x="599" y="250.4" width="1" height="3.1" fill="#000" fill-opacity="0.62"/>
<rect x="598.25" y="251.3" width="2.5" height="1.6" fill="#ff1a05" stroke="#d41606" stroke-width="0.5"/>
<rect x="603" y="252.3" width="1" height="11.3" fill="#000" fill-opacity="0.62"/>
<rect x="602.25" y="253.4" width="2.5" height="9.3" fill="#ff1a05" stroke="#d41606" stroke-width="0.5"/>
<rect x="606" y="258.6" width="1" height="5.0" fill="#000" fill-opacity="0.62"/>
<rect x="605.25" y="259.4" width="2.5" height="3.3" fill="#14e614" stroke="#2aa82a" stroke-width="0.5"/>
<rect x="609" y="257.3" width="1" height="4.4" fill="#000" fill-opacity="0.62"/>
<rect x="608.25" y="258.2" width="2.5" height="2.6" fill="#ff1a05" stroke="#d41606" stroke-width="0.5"/>
<rect x="613" y="258.6" width="1" height="4.4" fill="#000" fill-opacity="0.62"/>
<rect x="612.25" y="260.1" width="2.5" height="1.4" fill="#14e614" stroke="#2aa82a" stroke-width="0.5"/>
<rect x="616" y="255.4" width="1" height="4.4" fill="#000" fill-opacity="0.62"/>
<rect x="615.25" y="256.6" width="2.5" height="2.6" fill="#14e614" stroke="#2aa82a" stroke-width="0.5"/>
<rect x="619" y="252.3" width="1" height="4.4" fill="#000" fill-opacity="0.62"/>
<rect x="618.25" y="253.4" width="2.5" height="2.6" fill="#14e614" stroke="#2aa82a" stroke-width="0.5"/>
<rect x="622" y="251.6" width="1" height="7.6" fill="#000" fill-opacity="0.62"/>
<rect x="621.25" y="253.4" width="2.5" height="2.4" fill="#ff1a05" stroke="#d41606" stroke-width="0.5"/>
<rect x="626" y="255.2" width="1" height="6.5" fill="#000" fill-opacity="0.62"/>
<rect x="625.25" y="256.1" width="2.5" height="5.2" fill="#ff1a05" stroke="#d41606" stroke-width="0.5"/>
<rect x="629" y="257.9" width="1" height="3.1" fill="#000" fill-opacity="0.62"/>
<rect x="628.25" y="259.4" width="2.5" height="0.8" fill="#ff1a05" stroke="#d41606" stroke-width="0.5"/>
<rect x="632" y="257.3" width="1" height="3.1" fill="#000" fill-opacity="0.62"/>
<rect x="631.25" y="258.9" width="2.5" height="0.8" fill="#ff1a05" stroke="#d41606" stroke-width="0.5"/>
<rect x="636" y="246.6" width="1" height="13.8" fill="#000" fill-opacity="0.62"/>
<rect x="635.25" y="248.4" width="2.5" height="11.6" fill="#14e614" stroke="#2aa82a" stroke-width="0.5"/>
<rect x="639" y="244.1" width="1" height="5.7" fill="#000" fill-opacity="0.62"/>
<rect x="638.25" y="247.1" width="2.5" height="1.5" fill="#14e614" stroke="#2aa82a" stroke-width="0.5"/>
<rect x="642" y="245.4" width="1" height="15.7" fill="#000" fill-opacity="0.62"/>
<rect x="641.25" y="246.2" width="2.5" height="14.0" fill="#ff1a05" stroke="#d41606" stroke-width="0.5"/>
<rect x="645" y="256.7" width="1" height="6.3" fill="#000" fill-opacity="0.62"/>
<rect x="644.25" y="259.4" width="2.5" height="1.0" fill="#14e614" stroke="#2aa82a" stroke-width="0.5"/>
<rect x="649" y="253.5" width="1" height="7.6" fill="#000" fill-opacity="0.62"/>
<rect x="648.25" y="254.4" width="2.5" height="5.5" fill="#14e614" stroke="#2aa82a" stroke-width="0.5"/>
<rect x="652" y="250.4" width="1" height="5.0" fill="#000" fill-opacity="0.62"/>
<rect x="651.25" y="253.2" width="2.5" height="0.8" fill="#14e614" stroke="#2aa82a" stroke-width="0.5"/>
<rect x="655" y="241.0" width="1" height="17.6" fill="#000" fill-opacity="0.62"/>
<rect x="654.25" y="243.7" width="2.5" height="7.1" fill="#14e614" stroke="#2aa82a" stroke-width="0.5"/>
<rect x="659" y="220.8" width="1" height="23.9" fill="#000" fill-opacity="0.62"/>
<rect x="658.25" y="224.2" width="2.5" height="19.6" fill="#14e614" stroke="#2aa82a" stroke-width="0.5"/>
<rect x="662" y="208.9" width="1" height="17.6" fill="#000" fill-opacity="0.62"/>
<rect x="661.25" y="216.1" width="2.5" height="7.7" fill="#14e614" stroke="#2aa82a" stroke-width="0.5"/>
<rect x="665" y="200.1" width="1" height="16.4" fill="#000" fill-opacity="0.62"/>
<rect x="664.25" y="203.5" width="2.5" height="11.5" fill="#14e614" stroke="#2aa82a" stroke-width="0.5"/>
<rect x="668" y="200.7" width="1" height="6.9" fill="#000" fill-opacity="0.62"/>
<rect x="667.25" y="204.1" width="2.5" height="2.6" fill="#ff1a05" stroke="#d41606" stroke-width="0.5"/>
<rect x="672" y="198.8" width="1" height="17.0" fill="#000" fill-opacity="0.62"/>
<rect x="671.25" y="207.2" width="2.5" height="2.6" fill="#ff1a05" stroke="#d41606" stroke-width="0.5"/>
<rect x="675" y="196.9" width="1" height="15.1" fill="#000" fill-opacity="0.62"/>
<rect x="674.25" y="210.4" width="2.5" height="0.8" fill="#ff1a05" stroke="#d41606" stroke-width="0.5"/>
<rect x="678" y="207.6" width="1" height="8.2" fill="#000" fill-opacity="0.62"/>
<rect x="677.25" y="211.6" width="2.5" height="0.8" fill="#ff1a05" stroke="#d41606" stroke-width="0.5"/>
<rect x="681" y="200.1" width="1" height="15.1" fill="#000" fill-opacity="0.62"/>
<rect x="680.25" y="207.9" width="2.5" height="3.3" fill="#14e614" stroke="#2aa82a" stroke-width="0.5"/>
<rect x="685" y="200.7" width="1" height="20.8" fill="#000" fill-opacity="0.62"/>
<rect x="684.25" y="205.4" width="2.5" height="15.2" fill="#ff1a05" stroke="#d41606" stroke-width="0.5"/>
<rect x="688" y="218.3" width="1" height="16.4" fill="#000" fill-opacity="0.62"/>
<rect x="687.25" y="219.8" width="2.5" height="14.0" fill="#ff1a05" stroke="#d41606" stroke-width="0.5"/>
<rect x="691" y="232.2" width="1" height="7.6" fill="#000" fill-opacity="0.62"/>
<rect x="690.25" y="233.0" width="2.5" height="2.0" fill="#14e614" stroke="#2aa82a" stroke-width="0.5"/>
<rect x="695" y="229.7" width="1" height="3.8" fill="#000" fill-opacity="0.62"/>
<rect x="694.25" y="231.5" width="2.5" height="0.8" fill="#ff1a05" stroke="#d41606" stroke-width="0.5"/>
<rect x="698" y="230.3" width="1" height="4.4" fill="#000" fill-opacity="0.62"/>
<rect x="697.25" y="232.4" width="2.5" height="0.8" fill="#ff1a05" stroke="#d41606" stroke-width="0.5"/>
<rect x="701" y="230.3" width="1" height="26.4" fill="#000" fill-opacity="0.62"/>
<rect x="700.25" y="238.7" width="2.5" height="17.5" fill="#ff1a05" stroke="#d41606" stroke-width="0.5"/>
<rect x="704" y="249.2" width="1" height="8.6" fill="#000" fill-opacity="0.62"/>
<rect x="703.25" y="251.7" width="2.5" height="4.8" fill="#14e614" stroke="#2aa82a" stroke-width="0.5"/>
<rect x="708" y="246.9" width="1" height="4.8" fill="#000" fill-opacity="0.62"/>
<rect x="707.25" y="248.2" width="2.5" height="2.6" fill="#14e614" stroke="#2aa82a" stroke-width="0.5"/>
<polyline points="25.9,218.2 31.8,218.8 56.9,218.8 77.0,218.8 85.4,219.9 97.1,221.0 110.5,223.5 123.9,226.9 133.9,229.9 144.0,234.4 154.0,239.4 160.1,240.2 170.1,242.8 180.2,245.3 190.3,247.8 200.4,250.1 207.9,251.6 215.5,252.6 225.5,252.8 238.1,252.2 258.0,250.9 262.6,247.9 275.1,244.2 291.9,238.9 308.6,232.7 321.2,226.4 333.7,214.9 346.3,202.3 358.8,192.9 371.4,183.5 383.9,170.9 396.5,158.4 404.9,148.8 417.4,137.3 423.7,134.2 430.0,130.0 436.7,126.6 449.3,122.8 461.9,124.5 470.2,127.4 482.8,131.2 493.3,135.3 503.7,141.6 512.1,147.9 520.5,156.3 524.6,160.5 533.0,168.4 541.4,175.7 549.8,183.0 558.1,188.3 566.5,192.4 574.9,196.6 583.2,200.8 585.0,203.0 590.6,206.8 598.0,211.9 605.5,217.0 612.9,221.7 622.2,226.8 631.6,231.0 640.9,233.8 650.2,235.6 659.5,236.1 666.4,236.3 675.2,234.7 687.8,234.7 694.0,236.3 700.4,237.6 704.1,238.1 708.7,239.0" fill="none" stroke="#f81408" stroke-width="2.2" stroke-linejoin="round" />
<polyline points="19.2,208.5 22.6,213.5 25.9,218.2" fill="none" stroke="#f81408" stroke-width="1.4" stroke-linejoin="round" />
<polyline points="14.7,195.4 14.7,195.4 24.2,195.4 26.7,192.6 29.3,191.4 43.5,191.7 53.5,190.9 59.4,189.2 66.9,192.6 73.6,196.7 80.3,205.1 85.4,212.7 90.4,216.0 97.1,216.8 103.8,217.2 113.8,218.8 127.2,220.2 140.6,223.9 154.0,228.6 155.0,232.1 162.6,238.4 166.4,240.2 170.1,242.1 180.2,245.3 190.3,248.4 200.4,250.9 207.9,252.6 210.4,251.6 215.5,246.5 220.5,239.0 225.5,230.2 230.6,221.4 238.1,217.0 248.2,216.1 258.0,213.8 262.6,213.8 275.1,208.6 284.0,202.8 291.6,197.8 299.1,195.2 304.1,192.1 316.7,190.2 319.2,180.1 321.8,167.6 323.0,160.0 325.3,144.6 333.7,123.7 337.9,109.1 342.1,94.4 347.3,85.0 352.6,82.3 363.0,82.5 369.3,86.0 374.5,90.2 379.8,87.1 386.0,77.7 392.3,67.2 398.6,62.6 400.0,63.0 404.2,61.8 409.2,59.4 413.4,59.4 419.4,55.2 422.6,57.4 426.4,58.6 432.2,53.2 436.0,54.7 439.4,55.5 442.3,53.2 446.9,58.4 451.9,64.3 455.3,66.8 458.6,71.8 463.7,76.9 468.7,81.5 472.0,86.9 474.4,93.5 480.7,108.1 484.9,122.8 491.2,129.1 497.4,127.0 503.7,122.8 508.9,120.7 514.2,128.0 520.5,133.3 524.6,136.4 533.0,147.9 541.4,162.6 549.8,177.2 552.9,181.0 556.0,189.3 559.2,197.7 562.3,201.9 570.7,201.9 579.1,199.8 585.0,196.1 590.6,194.7 596.2,191.4 599.0,189.5 606.7,185.9 617.2,187.0 621.3,190.0 625.0,193.7 628.8,199.3 631.6,204.9 634.3,211.4 637.1,217.0 639.9,224.5 642.7,231.0 646.5,236.6 651.1,240.8 655.8,242.6 658.6,240.3 660.4,234.7 663.5,224.3 667.7,212.5 672.8,202.4 677.8,195.6 682.0,191.4 685.4,190.4 697.3,191.4 705.7,191.6 708.9,192.2" fill="none" stroke="#f2a236" stroke-width="1.25" stroke-linejoin="round" />
<polyline points="14.7,227.7 14.7,227.7 24.2,227.7 26.7,231.9 31.8,235.3 43.5,236.1 51.9,238.6 60.2,244.5 66.9,247.0 73.6,247.8 80.3,245.3 87.0,241.1 97.1,239.4 103.8,242.0 110.5,246.1 117.2,252.0 127.2,258.7 137.3,263.7 147.3,267.1 150.0,268.6 155.0,269.5 162.6,267.9 170.1,265.4 175.2,264.2 190.3,263.9 205.4,264.8 210.4,266.7 218.0,270.5 225.5,275.5 230.6,278.0 238.1,279.5 245.7,279.3 254.2,271.0 262.6,263.0 273.0,255.7 285.6,248.4 298.1,242.1 312.8,238.9 318.0,240.0 321.2,248.4 327.4,254.6 340.0,259.3 348.4,250.5 356.7,237.9 365.1,223.3 371.4,208.6 377.7,189.8 381.9,179.3 386.0,175.1 396.5,172.0 409.1,170.5 417.4,166.7 423.7,159.4 430.0,160.0 439.9,164.2 447.2,172.6 455.6,183.0 466.0,190.3 475.5,193.5 482.8,189.3 491.2,184.1 495.3,187.2 499.5,201.9 503.7,216.5 510.0,229.1 516.3,237.4 522.6,243.7 528.8,250.0 539.3,254.2 547.7,250.0 553.9,243.7 560.2,234.3 566.5,236.4 570.0,236.7 573.8,235.1 579.4,236.7 585.7,240.2 590.8,244.0 595.2,248.4 597.7,252.8 601.4,258.4 604.0,263.4 607.1,268.0 610.9,273.8 619.3,281.2 627.7,284.7 635.0,282.2 640.2,273.8 646.5,267.6 652.8,269.6 659.1,278.0 665.3,284.7 673.7,284.3 682.1,281.2 690.5,275.9 698.8,269.6 708.9,268.0" fill="none" stroke="#f2a236" stroke-width="1.25" stroke-linejoin="round" />
<line x1="15" x2="15" y1="195.4" y2="227.7" stroke="#f0a64c" stroke-dasharray="1.5 1.5"/>
<line x1="708.9" x2="708.9" y1="192.2" y2="268.0" stroke="#f0a64c" stroke-opacity="0.45" stroke-dasharray="1.5 1.5"/>
<polyline points="20.0,284.7 26.4,189.2 28.8,196.7 30.9,198.4 58.6,198.8 63.6,200.9 78.7,201.4 83.7,205.1 91.2,211.5 99.6,212.2 103.8,215.2 108.0,219.4 110.5,221.9 117.2,226.0 125.5,228.6 127.2,233.6 134.7,235.3 142.3,238.6 154.0,239.9 181.5,240.5 186.5,242.5 212.9,242.5" fill="none" stroke="#c4161c" stroke-width="1.3" stroke-linejoin="round" />
<polyline points="472.3,99.8 475.5,108.1 489.1,110.2 493.3,114.4 497.4,129.1 500.6,143.7 503.7,156.3 507.9,164.6 512.1,166.7 518.4,167.8 522.6,175.1 524.6,181.0 527.8,180.3 537.2,180.7 556.0,184.1 583.2,184.7 586.9,190.9 590.6,194.7 594.3,199.3 597.1,208.6 600.8,214.2 603.6,219.8 606.4,223.5 610.1,225.4 612.9,228.0 622.2,228.4 626.0,230.0 631.6,233.0 655.8,233.3" fill="none" stroke="#c4161c" stroke-width="1.3" stroke-linejoin="round" />
<polyline points="701.4,198.0 702.0,205.0 703.6,211.7 705.7,213.4 708.7,213.8" fill="none" stroke="#c4161c" stroke-width="1.3" stroke-linejoin="round" />
<polyline points="216.7,265.4 219.9,262.3 225.5,252.8 227.4,251.3 285.6,248.4 287.7,236.9 320.1,236.2 322.2,225.3 326.4,191.9 335.8,190.8 340.0,180.3 380.8,179.3 383.5,164.7 430.0,164.2 468.1,164.0" fill="none" stroke="#1a8c1a" stroke-width="1.3" stroke-linejoin="round" />
<polyline points="659.1,266.5 662.2,255.0 665.3,245.6 668.5,241.4 698.8,240.8" fill="none" stroke="#1a8c1a" stroke-width="1.3" stroke-linejoin="round" />
<polyline points="19.2,218.2 43.5,219.9 77.0,221.9 110.5,224.9 154.0,229.4 162.6,230.8 175.2,232.1 187.8,233.7 200.4,235.2 258.0,235.6 281.4,234.8 309.2,232.4 321.8,230.5 334.4,228.6 346.9,224.5 359.5,221.7 372.1,220.2 382.2,217.9 392.0,215.4 396.5,213.8 413.2,209.6 430.0,206.1 440.9,206.0 461.9,203.5 482.8,202.5 524.6,202.9 566.5,203.5 600.0,204.0 621.4,204.8 665.3,207.5 708.9,207.9" fill="none" stroke="#2222e6" stroke-width="1.35" stroke-linejoin="round" />
<polyline points="55.2,229.4 80.3,229.4 84.5,232.7 97.1,232.7 103.8,233.6 107.1,237.8 110.5,240.3 117.2,244.5 127.2,246.1 130.6,247.0 137.3,251.2 144.0,253.7 154.0,254.5 157.6,256.0 161.3,255.1 190.3,255.4 193.4,256.4 211.7,256.0 216.0,251.7 219.8,250.4 223.6,242.9 226.7,236.6 231.1,235.9 237.4,234.7 240.5,229.7 255.0,229.3 257.5,237.8 262.6,238.5 265.7,232.8 270.1,230.3 284.6,227.1 286.5,219.0 289.0,212.7 294.0,205.7 304.1,205.4 309.2,202.0 316.7,202.0 319.2,193.8 320.5,190.0 321.2,183.5 325.3,175.1 333.7,170.9 337.9,160.5 341.0,150.9 346.3,148.8 348.4,142.6 350.5,123.7 354.6,132.1 358.8,136.3 367.2,136.7 375.6,138.4 379.8,127.9 386.0,114.3 396.5,113.3 400.7,112.2 404.9,94.4 407.0,89.2 411.2,89.2 415.3,92.3 421.6,94.4 425.8,102.8 428.4,104.0 430.5,116.5 436.7,119.6 445.1,122.8 448.3,127.0 451.4,143.7 455.6,145.8 458.7,147.9 468.1,152.1 478.6,158.4 487.0,162.6 493.3,168.4 496.4,180.9 500.6,187.2 505.8,193.5 512.1,196.6 521.5,197.7 524.6,210.2 527.8,220.7 537.2,221.7 553.9,222.8 559.2,220.7 563.4,208.1 566.5,199.8 575.9,199.8 581.2,208.1 585.0,210.0 590.6,212.3 593.4,215.1 595.2,220.7 598.0,225.4 601.8,230.0 605.5,236.6 608.3,242.1 611.5,245.4 616.6,248.5 620.4,250.4 625.4,254.2 630.4,257.3 635.5,256.7 638.6,253.5 641.8,252.3 651.8,252.9 656.9,251.6 659.4,242.8 661.0,238.0 663.0,234.0 666.0,229.5 680.4,228.2 683.7,224.3 686.3,221.8 688.4,216.7 690.5,217.6 692.2,218.4 698.1,218.6 699.8,221.8 701.9,226.5 704.0,228.2 708.7,228.6" fill="none" stroke="#c4161c" stroke-width="1.2" stroke-linejoin="round" />
<polyline points="106.3,223.5 110.5,230.2 117.2,233.6 125.5,235.3 130.6,240.3 137.3,244.5 154.0,245.3 180.2,245.9 182.7,249.1 190.3,250.9 194.1,254.7 196.6,255.4 211.7,255.4 219.0,255.1 221.0,247.3 223.5,240.4 228.0,237.2 258.0,237.2 277.2,236.9 286.6,234.8 288.7,223.3 294.0,220.1 301.3,217.0 317.4,216.6 321.2,201.3 324.3,190.8 328.5,188.7 335.8,187.7 338.9,170.9 342.1,169.3 348.4,168.8 352.6,163.6 365.1,163.6 368.3,159.3 375.6,158.3 379.8,148.8 386.0,138.4 392.3,134.2 400.7,132.1 404.9,127.9 407.0,117.4 430.0,117.9 432.6,117.6 440.9,114.8 461.9,114.8 468.1,118.6 472.3,122.8 482.8,122.4 492.2,124.9 496.4,137.4 500.6,150.0 504.8,162.6 507.9,172.6 512.1,178.8 518.4,180.9 526.7,184.1 533.0,186.2 537.2,191.4 545.6,194.5 553.9,196.0 562.3,197.7 566.5,198.7 575.9,199.3 579.1,210.2 585.0,211.4 593.4,213.3 596.2,217.0 599.9,217.9 603.6,222.1 607.3,222.6 644.6,223.1 649.2,224.5 652.0,229.1 655.8,232.4 659.5,233.6 664.0,233.0 675.3,230.3 690.5,230.3 693.0,232.0 695.6,232.8 702.0,234.5 708.7,236.0" fill="none" stroke="#1f78c8" stroke-width="1.3" stroke-linejoin="round" />
<polyline points="19.4,218.4 54.1,218.9" fill="none" stroke="#1f78c8" stroke-width="1.3" stroke-linejoin="round" />
<polygon points="46.7,228.3 47.2,228.0 47.7,227.7 48.2,227.6 48.7,227.5 49.2,227.5 49.7,227.4 50.2,227.4 50.7,227.4 51.2,227.3 51.7,227.3 52.2,227.3 52.7,227.2 53.2,227.2 53.7,227.1 54.2,227.1 54.7,227.0 55.2,227.0 55.7,226.9 56.2,226.9 56.7,226.9 57.2,226.8 57.7,226.8 58.2,226.7 58.7,226.7 59.2,226.6 59.7,226.6 60.2,226.5 60.7,226.5 61.2,226.4 61.7,226.4 62.2,226.3 62.7,226.3 63.2,226.2 63.7,226.2 64.2,226.1 64.7,226.1 65.2,226.0 65.7,226.0 66.2,225.9 66.7,225.9 67.2,225.9 67.7,225.8 68.2,225.8 68.7,225.7 69.2,225.7 69.7,225.6 70.2,225.6 70.7,225.5 71.2,225.5 71.7,225.5 72.2,225.4 72.7,225.4 73.2,225.4 73.7,225.3 74.2,225.3 74.7,225.3 75.2,225.2 75.7,225.2 76.2,225.2 76.7,225.2 77.2,225.1 77.7,225.1 78.2,225.1 78.7,225.0 79.2,225.0 79.7,224.7 80.2,224.4 80.7,224.1 81.2,223.8 81.7,223.5 82.2,223.1 82.7,222.8 83.2,222.5 83.7,222.2 84.2,222.0 84.7,221.7 85.2,221.4 85.7,221.2 86.2,220.9 86.7,220.7 87.2,220.4 87.7,220.2 88.2,220.0 88.7,219.8 89.2,219.5 89.7,219.3 90.2,219.1 90.7,218.9 91.2,218.7 91.7,218.4 92.2,218.2 92.7,218.0 93.2,217.8 93.7,217.6 94.2,217.3 94.7,217.1 95.2,216.9 95.7,216.7 96.2,216.5 96.7,216.2 97.2,216.0 97.7,215.8 98.2,215.6 98.7,215.4 99.2,215.1 99.7,214.9 100.2,214.7 100.7,214.5 101.2,214.3 101.7,214.0 102.2,213.9 102.7,213.7 103.2,213.6 103.7,213.5 104.2,213.4 104.7,213.3 105.2,213.1 105.7,213.0 106.2,212.9 106.7,212.8 107.2,212.7 107.7,212.6 108.2,212.4 108.7,212.3 109.2,213.0 109.7,213.8 110.2,214.6 110.7,215.4 111.2,216.2 111.7,217.0 112.2,217.7 112.7,217.7 113.2,217.7 113.7,217.8 114.2,217.8 114.7,217.8 115.2,217.8 115.7,217.8 116.2,217.8 116.7,217.9 117.2,217.9 117.7,217.9 118.2,217.9 118.7,217.9 119.2,218.0 119.7,218.0 120.2,218.0 120.7,218.0 121.2,218.0 121.7,218.0 122.2,218.1 122.7,218.1 123.2,218.1 123.7,218.1 124.2,218.1 124.7,218.1 125.2,218.2 125.7,218.2 126.2,218.2 126.7,218.2 127.2,218.2 127.7,218.3 128.2,218.3 128.7,218.3 129.2,218.3 129.7,218.3 130.2,218.3 130.7,218.4 131.2,218.4 131.7,218.4 132.2,218.4 132.7,218.4 133.2,218.4 133.7,218.5 134.2,218.5 134.7,218.5 135.2,219.0 135.7,219.4 136.2,219.9 136.7,220.3 137.2,220.8 137.7,221.3 138.2,221.7 138.7,222.2 139.2,222.6 139.7,223.1 140.2,223.2 140.7,223.3 141.2,223.3 141.7,223.4 142.2,223.4 142.7,223.4 143.2,223.5 143.7,223.5 144.2,223.6 144.7,223.6 145.2,223.7 145.7,223.7 146.2,223.7 146.7,223.8 147.2,223.8 147.7,223.9 148.2,223.9 148.7,224.0 149.2,224.0 149.7,224.0 150.2,224.1 150.7,224.1 151.2,224.2 151.7,224.2 152.2,224.2 152.7,224.3 153.2,224.3 153.7,224.4 154.2,224.4 154.7,224.5 155.2,224.5 155.7,224.5 156.2,224.6 156.7,224.6 157.2,224.7 157.7,224.7 158.2,224.7 158.7,224.8 159.2,224.8 159.7,224.9 160.2,224.9 160.2,224.9 159.7,224.9 159.2,224.9 158.7,224.9 158.2,224.9 157.7,224.9 157.2,224.9 156.7,224.9 156.2,224.9 155.7,224.9 155.2,224.9 154.7,224.9 154.2,224.9 153.7,224.9 153.2,224.9 152.7,224.9 152.2,224.9 151.7,224.9 151.2,224.9 150.7,224.9 150.2,224.9 149.7,224.9 149.2,225.0 148.7,225.0 148.2,225.0 147.7,225.0 147.2,225.0 146.7,225.0 146.2,225.0 145.7,225.0 145.2,225.0 144.7,225.0 144.2,225.0 143.7,225.0 143.2,225.0 142.7,225.0 142.2,225.0 141.7,225.0 141.2,225.0 140.7,225.1 140.2,225.1 139.7,225.1 139.2,225.1 138.7,225.1 138.2,225.1 137.7,225.1 137.2,225.1 136.7,225.1 136.2,225.1 135.7,225.1 135.2,225.1 134.7,225.1 134.2,225.1 133.7,225.1 133.2,225.1 132.7,225.1 132.2,225.2 131.7,225.2 131.2,225.2 130.7,225.2 130.2,225.2 129.7,225.2 129.2,225.2 128.7,225.2 128.2,225.2 127.7,225.2 127.2,225.2 126.7,225.2 126.2,225.2 125.7,225.2 125.2,225.2 124.7,225.2 124.2,225.2 123.7,225.2 123.2,225.3 122.7,225.3 122.2,225.3 121.7,225.3 121.2,225.3 120.7,225.3 120.2,225.3 119.7,225.3 119.2,225.3 118.7,225.3 118.2,225.3 117.7,225.3 117.2,225.3 116.7,225.3 116.2,225.3 115.7,225.3 115.2,225.3 114.7,225.4 114.2,225.4 113.7,225.4 113.2,225.4 112.7,225.4 112.2,225.4 111.7,225.4 111.2,225.4 110.7,225.4 110.2,225.4 109.7,225.4 109.2,225.4 108.7,225.4 108.2,225.4 107.7,225.4 107.2,225.4 106.7,225.4 106.2,225.5 105.7,225.5 105.2,225.5 104.7,225.5 104.2,225.5 103.7,225.5 103.2,225.5 102.7,225.5 102.2,225.5 101.7,225.5 101.2,225.5 100.7,225.5 100.2,225.5 99.7,225.5 99.2,225.5 98.7,225.5 98.2,225.5 97.7,225.5 97.2,225.5 96.7,225.5 96.2,225.5 95.7,225.5 95.2,225.5 94.7,225.5 94.2,225.5 93.7,225.5 93.2,225.5 92.7,225.5 92.2,225.5 91.7,225.5 91.2,225.5 90.7,225.5 90.2,225.5 89.7,225.5 89.2,225.5 88.7,225.5 88.2,225.5 87.7,225.5 87.2,225.5 86.7,225.5 86.2,225.5 85.7,225.5 85.2,225.5 84.7,225.5 84.2,225.6 83.7,225.7 83.2,225.9 82.7,226.0 82.2,226.2 81.7,226.3 81.2,226.4 80.7,226.6 80.2,226.7 79.7,226.8 79.2,227.0 78.7,227.1 78.2,227.3 77.7,227.4 77.2,227.5 76.7,227.7 76.2,227.8 75.7,227.9 75.2,228.1 74.7,228.3 74.2,228.6 73.7,228.9 73.2,229.1 72.7,229.4 72.2,229.7 71.7,230.0 71.2,230.2 70.7,230.4 70.2,230.4 69.7,230.4 69.2,230.4 68.7,230.4 68.2,230.4 67.7,230.4 67.2,230.4 66.7,230.4 66.2,230.4 65.7,230.4 65.2,230.4 64.7,230.4 64.2,230.4 63.7,230.4 63.2,230.4 62.7,230.4 62.2,230.4 61.7,230.4 61.2,230.4 60.7,230.4 60.2,230.4 59.7,230.4 59.2,230.4 58.7,230.4 58.2,230.4 57.7,230.4 57.2,230.4 56.7,230.4 56.2,230.4 55.7,230.4 55.2,230.4 54.7,230.4 54.2,230.4 53.7,230.4 53.2,230.4 52.7,230.4 52.2,230.4 51.7,230.4 51.2,230.4 50.7,230.4 50.2,230.4 49.7,230.4 49.2,230.4 48.7,230.4 48.2,230.4 47.7,230.4 47.2,230.4 46.7,230.4" fill="#32c02a" fill-opacity="0.38"/>
<polygon points="160.2,224.9 160.7,224.9 161.2,225.0 161.7,225.0 162.2,225.1 162.7,225.1 163.2,225.1 163.7,225.1 164.2,225.2 164.7,225.2 165.2,225.2 165.7,225.2 166.2,225.2 166.7,225.2 167.2,225.3 167.7,225.3 168.2,225.3 168.7,225.3 169.2,225.3 169.7,225.4 170.2,225.4 170.7,225.4 171.2,225.4 171.7,225.4 172.2,225.4 172.7,225.5 173.2,225.5 173.7,225.5 174.2,225.5 174.7,225.5 175.2,225.6 175.7,225.6 176.2,225.6 176.7,225.6 177.2,225.6 177.7,225.6 178.2,225.7 178.7,225.7 179.2,225.7 179.7,225.7 180.2,225.7 180.7,225.8 181.2,225.8 181.7,225.8 182.2,225.8 182.7,225.8 183.2,225.8 183.7,225.9 184.2,225.9 184.7,225.9 185.2,225.9 185.7,225.9 186.2,226.0 186.7,226.0 187.2,226.0 187.7,226.0 188.2,226.0 188.7,226.0 189.2,226.1 189.7,226.1 190.2,226.1 190.7,227.0 191.2,228.1 191.7,229.2 192.2,230.3 192.7,231.4 193.2,232.5 193.7,233.0 194.2,233.1 194.7,233.3 195.2,233.4 195.7,233.6 196.2,233.7 196.7,233.9 197.2,234.0 197.7,234.2 198.2,234.3 198.7,234.5 199.2,234.6 199.7,234.8 200.2,234.9 200.7,235.1 201.2,235.2 201.7,235.3 202.2,235.4 202.7,235.6 203.2,235.7 203.7,235.8 204.2,235.9 204.7,236.0 205.2,236.2 205.7,236.3 206.2,236.4 206.7,236.6 207.2,236.8 207.7,237.1 208.2,237.3 208.7,237.6 209.2,237.8 209.7,238.1 210.2,238.3 210.7,239.1 211.2,240.3 211.7,241.4 212.2,242.6 212.7,243.0 213.2,243.3 213.7,243.6 214.2,243.8 214.7,244.1 215.2,244.4 215.7,244.6 216.2,244.9 216.7,245.2 217.2,245.5 217.7,245.7 218.2,246.0 218.7,246.3 219.2,246.7 219.7,247.0 220.2,247.3 220.7,247.6 221.2,247.9 221.7,248.2 222.2,248.5 222.7,248.8 223.2,249.2 223.7,249.5 224.2,249.8 224.7,250.1 225.2,250.4 225.7,250.6 226.2,250.6 226.7,250.6 227.2,250.6 227.7,250.6 228.2,250.7 228.7,250.7 229.2,250.7 229.7,250.7 230.2,250.7 230.7,250.7 231.2,250.7 231.7,250.7 232.2,250.7 232.7,250.8 233.2,250.8 233.7,250.8 234.2,250.8 234.7,250.8 235.2,250.8 235.7,250.8 236.2,250.8 236.7,250.8 237.2,250.9 237.7,250.9 238.2,250.9 238.7,250.9 239.2,250.9 239.7,250.9 240.2,250.9 240.7,250.9 241.2,250.9 241.7,250.9 242.2,251.0 242.7,251.0 243.2,251.0 243.7,251.0 244.2,251.0 244.7,251.0 245.2,251.0 245.7,251.0 246.2,251.0 246.7,251.1 247.2,251.1 247.7,251.1 248.2,251.1 248.7,251.1 249.2,251.1 249.7,251.1 250.2,251.1 250.7,251.1 251.2,251.2 251.7,251.2 252.2,251.2 252.7,251.2 253.2,251.2 253.7,251.2 254.2,251.2 254.7,251.2 255.2,251.2 255.7,251.3 256.2,251.3 256.7,251.3 257.2,251.3 257.7,251.3 258.2,251.4 258.7,251.5 259.2,251.6 259.7,251.8 260.2,251.9 260.7,252.1 261.2,252.2 261.7,252.3 262.2,252.5 262.7,252.6 263.2,252.7 263.7,252.8 264.2,252.9 264.7,253.0 265.2,253.2 265.7,253.3 266.2,253.4 266.7,253.5 267.2,253.6 267.7,253.7 268.2,253.8 268.7,253.9 269.2,254.0 269.7,254.1 270.2,254.2 270.7,254.3 271.2,254.4 271.7,254.5 272.2,254.6 272.7,254.7 273.2,254.9 273.7,255.0 274.2,255.1 274.7,255.2 275.2,255.3 275.7,255.4 276.2,255.5 276.7,255.6 277.2,255.7 277.7,255.7 278.2,255.7 278.7,255.7 279.2,255.7 279.7,255.7 280.2,255.7 280.7,255.7 281.2,255.7 281.7,255.7 282.2,255.7 282.7,255.7 283.2,255.7 283.7,255.7 284.2,255.7 284.7,255.7 285.2,255.7 285.7,255.7 286.2,255.7 286.7,255.7 287.2,255.7 287.7,255.7 288.2,255.7 288.7,255.7 289.2,255.7 289.7,255.7 290.2,255.7 290.7,255.7 291.2,255.7 291.7,255.7 292.2,255.7 292.7,255.7 293.2,255.7 293.7,255.7 294.2,255.7 294.7,255.7 295.2,255.7 295.7,255.7 296.2,255.7 296.7,255.7 297.2,255.7 297.7,255.7 298.2,255.7 298.7,255.7 299.2,255.7 299.7,255.7 300.2,255.7 300.7,255.3 301.2,255.0 301.7,254.6 302.2,254.2 302.7,253.9 303.2,253.5 303.7,253.1 304.2,252.7 304.7,251.9 305.2,250.7 305.7,249.4 306.2,248.2 306.7,247.0 307.2,245.8 307.7,244.6 308.2,243.4 308.7,242.2 309.2,241.0 309.7,239.9 310.2,239.3 310.7,238.7 311.2,238.1 311.7,237.5 312.2,236.9 312.2,237.2 311.7,237.4 311.2,237.7 310.7,237.9 310.2,238.4 309.7,238.9 309.2,239.4 308.7,239.9 308.2,240.4 307.7,240.9 307.2,241.4 306.7,241.9 306.2,242.0 305.7,241.8 305.2,241.7 304.7,241.5 304.2,241.3 303.7,241.2 303.2,241.0 302.7,240.8 302.2,240.7 301.7,240.5 301.2,240.3 300.7,240.2 300.2,240.0 299.7,239.8 299.2,239.7 298.7,239.5 298.2,239.4 297.7,239.2 297.2,239.1 296.7,238.9 296.2,238.8 295.7,238.6 295.2,238.5 294.7,238.3 294.2,238.2 293.7,238.0 293.2,237.9 292.7,237.7 292.2,237.6 291.7,237.4 291.2,237.2 290.7,237.0 290.2,236.8 289.7,236.6 289.2,236.4 288.7,236.2 288.2,236.0 287.7,235.8 287.2,235.6 286.7,235.4 286.2,235.2 285.7,235.0 285.2,235.0 284.7,234.9 284.2,234.9 283.7,234.8 283.2,234.8 282.7,234.7 282.2,234.7 281.7,234.6 281.2,234.6 280.7,234.5 280.2,234.5 279.7,234.4 279.2,234.4 278.7,234.3 278.2,234.2 277.7,233.9 277.2,233.7 276.7,233.2 276.2,232.7 275.7,232.2 275.2,231.7 274.7,231.2 274.2,230.7 273.7,230.6 273.2,230.6 272.7,230.6 272.2,230.6 271.7,230.5 271.2,230.5 270.7,230.5 270.2,230.5 269.7,230.5 269.2,230.5 268.7,230.5 268.2,230.5 267.7,230.4 267.2,230.4 266.7,230.4 266.2,230.4 265.7,230.4 265.2,230.4 264.7,230.4 264.2,230.4 263.7,230.3 263.2,230.3 262.7,230.3 262.2,230.3 261.7,230.3 261.2,230.3 260.7,230.3 260.2,230.3 259.7,230.2 259.2,230.2 258.7,230.2 258.2,230.2 257.7,230.2 257.2,230.2 256.7,230.2 256.2,230.2 255.7,230.2 255.2,230.2 254.7,230.2 254.2,230.2 253.7,230.2 253.2,230.2 252.7,230.2 252.2,230.2 251.7,230.2 251.2,230.2 250.7,230.2 250.2,230.2 249.7,230.2 249.2,230.2 248.7,230.2 248.2,230.2 247.7,230.2 247.2,230.2 246.7,230.2 246.2,230.2 245.7,230.2 245.2,230.2 244.7,230.2 244.2,230.2 243.7,230.2 243.2,230.2 242.7,230.2 242.2,230.2 241.7,230.2 241.2,230.2 240.7,230.2 240.2,230.2 239.7,230.2 239.2,230.2 238.7,230.2 238.2,230.2 237.7,230.2 237.2,230.2 236.7,230.2 236.2,230.2 235.7,230.2 235.2,230.2 234.7,230.2 234.2,230.2 233.7,230.2 233.2,230.2 232.7,230.2 232.2,230.2 231.7,230.2 231.2,230.2 230.7,230.2 230.2,230.2 229.7,230.2 229.2,230.2 228.7,230.2 228.2,230.2 227.7,230.2 227.2,230.2 226.7,230.2 226.2,230.2 225.7,230.2 225.2,230.2 224.7,230.2 224.2,230.2 223.7,230.2 223.2,230.2 222.7,230.2 222.2,230.2 221.7,230.2 221.2,230.2 220.7,230.2 220.2,230.2 219.7,230.2 219.2,230.2 218.7,230.2 218.2,230.2 217.7,230.2 217.2,230.2 216.7,230.2 216.2,230.2 215.7,230.2 215.2,230.1 214.7,229.9 214.2,229.8 213.7,229.6 213.2,229.4 212.7,229.2 212.2,229.1 211.7,228.9 211.2,228.1 210.7,227.3 210.2,226.5 209.7,225.7 209.2,224.9 208.7,224.8 208.2,224.6 207.7,224.5 207.2,224.4 206.7,224.2 206.2,224.1 205.7,224.0 205.2,223.8 204.7,223.7 204.2,223.6 203.7,223.4 203.2,223.3 202.7,223.2 202.2,223.0 201.7,222.9 201.2,222.7 200.7,222.6 200.2,222.5 199.7,222.3 199.2,222.2 198.7,222.0 198.2,221.9 197.7,221.8 197.2,221.6 196.7,221.5 196.2,221.3 195.7,221.2 195.2,221.1 194.7,220.9 194.2,220.7 193.7,220.5 193.2,220.3 192.7,220.1 192.2,219.9 191.7,219.7 191.2,219.5 190.7,219.3 190.2,219.1 189.7,219.4 189.2,219.6 188.7,219.8 188.2,220.0 187.7,220.3 187.2,220.5 186.7,220.7 186.2,220.9 185.7,221.2 185.2,221.4 184.7,221.6 184.2,221.8 183.7,222.1 183.2,222.3 182.7,222.5 182.2,222.7 181.7,222.9 181.2,223.2 180.7,223.4 180.2,223.6 179.7,223.6 179.2,223.7 178.7,223.7 178.2,223.7 177.7,223.8 177.2,223.8 176.7,223.8 176.2,223.9 175.7,223.9 175.2,223.9 174.7,224.0 174.2,224.0 173.7,224.0 173.2,224.1 172.7,224.1 172.2,224.1 171.7,224.1 171.2,224.2 170.7,224.2 170.2,224.2 169.7,224.3 169.2,224.3 168.7,224.3 168.2,224.4 167.7,224.4 167.2,224.4 166.7,224.5 166.2,224.5 165.7,224.5 165.2,224.6 164.7,224.6 164.2,224.6 163.7,224.7 163.2,224.7 162.7,224.7 162.2,224.8 161.7,224.8 161.2,224.8 160.7,224.9 160.2,224.9" fill="#f40a14" fill-opacity="0.33"/>
<polygon points="312.2,236.9 312.7,236.3 313.2,236.2 313.7,236.1 314.2,236.1 314.7,236.0 315.2,236.0 315.7,235.9 316.2,235.9 316.7,235.8 317.2,235.8 317.7,235.7 318.2,235.7 318.7,235.6 319.2,235.6 319.7,235.5 320.2,235.5 320.7,235.4 321.2,235.4 321.7,235.2 322.2,235.0 322.7,234.8 323.2,234.6 323.7,234.4 324.2,234.2 324.7,233.9 325.2,233.7 325.7,233.7 326.2,233.7 326.7,233.7 327.2,233.7 327.7,233.7 328.2,233.7 328.7,233.7 329.2,233.7 329.7,233.7 330.2,233.7 330.7,233.7 331.2,233.7 331.7,233.7 332.2,233.7 332.7,233.7 333.2,233.7 333.7,233.7 334.2,233.7 334.7,233.7 335.2,233.7 335.7,233.7 336.2,233.7 336.7,233.7 337.2,233.7 337.7,233.7 338.2,233.7 338.7,233.7 339.2,233.7 339.7,233.7 340.2,233.7 340.7,233.7 341.2,233.7 341.7,233.7 342.2,233.8 342.7,234.3 343.2,234.8 343.7,235.3 344.2,235.8 344.7,236.3 345.2,236.8 345.7,237.3 345.7,236.9 345.2,236.9 344.7,236.9 344.2,236.9 343.7,236.9 343.2,236.9 342.7,236.9 342.2,236.9 341.7,236.9 341.2,236.9 340.7,236.9 340.2,236.9 339.7,236.9 339.2,236.9 338.7,236.9 338.2,236.9 337.7,236.9 337.2,236.9 336.7,236.9 336.2,236.9 335.7,236.9 335.2,236.9 334.7,236.9 334.2,236.9 333.7,236.9 333.2,236.9 332.7,236.9 332.2,236.9 331.7,236.9 331.2,236.9 330.7,236.9 330.2,236.9 329.7,236.9 329.2,236.9 328.7,236.9 328.2,236.9 327.7,236.9 327.2,236.9 326.7,236.9 326.2,236.9 325.7,236.9 325.2,236.9 324.7,236.9 324.2,236.9 323.7,236.9 323.2,236.9 322.7,236.9 322.2,236.9 321.7,236.9 321.2,236.9 320.7,236.9 320.2,236.9 319.7,236.9 319.2,236.9 318.7,236.9 318.2,236.9 317.7,236.9 317.2,236.9 316.7,236.9 316.2,236.9 315.7,236.9 315.2,236.9 314.7,236.9 314.2,236.9 313.7,236.9 313.2,236.9 312.7,236.9 312.2,237.2" fill="#32c02a" fill-opacity="0.38"/>
<polygon points="345.7,237.3 346.2,237.8 346.7,237.7 347.2,237.5 347.7,237.2 348.2,237.0 348.7,236.7 348.7,236.9 348.2,236.9 347.7,236.9 347.2,236.9 346.7,236.9 346.2,236.9 345.7,236.9" fill="#f40a14" fill-opacity="0.33"/>
<polygon points="348.7,236.7 349.2,236.5 349.7,236.2 350.2,236.0 350.7,235.7 351.2,235.6 351.7,235.5 352.2,235.4 352.7,235.2 353.2,235.1 353.7,235.0 354.2,234.9 354.7,234.7 355.2,234.6 355.7,234.5 356.2,234.4 356.7,234.2 357.2,234.1 357.7,234.0 358.2,233.9 358.7,233.7 359.2,233.6 359.7,233.6 360.2,233.5 360.7,233.4 361.2,233.3 361.7,233.3 362.2,233.2 362.7,233.1 363.2,233.0 363.7,233.0 364.2,232.9 364.7,232.8 365.2,232.8 365.7,232.7 366.2,232.6 366.7,232.5 367.2,232.5 367.7,232.4 368.2,232.3 368.7,232.2 369.2,232.2 369.7,232.1 370.2,232.0 370.7,229.9 371.2,227.4 371.2,225.8 370.7,232.0 370.2,236.9 369.7,236.9 369.2,236.9 368.7,236.9 368.2,236.9 367.7,236.9 367.2,236.9 366.7,236.9 366.2,236.9 365.7,236.9 365.2,236.9 364.7,236.9 364.2,236.9 363.7,236.9 363.2,236.9 362.7,236.9 362.2,236.9 361.7,236.9 361.2,236.9 360.7,236.9 360.2,236.9 359.7,236.9 359.2,236.9 358.7,236.9 358.2,236.9 357.7,236.9 357.2,236.9 356.7,236.9 356.2,236.9 355.7,236.9 355.2,236.9 354.7,236.9 354.2,236.9 353.7,236.9 353.2,236.9 352.7,236.9 352.2,236.9 351.7,236.9 351.2,236.9 350.7,236.9 350.2,236.9 349.7,236.9 349.2,236.9 348.7,236.9" fill="#32c02a" fill-opacity="0.38"/>
<polygon points="371.2,227.4 371.7,224.8 372.2,222.2 372.2,223.3 371.7,223.3 371.2,225.8" fill="#f40a14" fill-opacity="0.33"/>
<polygon points="372.2,222.2 372.7,220.8 373.2,220.1 373.7,219.5 374.2,218.8 374.7,218.2 375.2,217.5 375.7,216.9 376.2,216.6 376.7,216.3 377.2,216.0 377.7,215.7 378.2,215.3 378.7,215.0 379.2,214.7 379.7,214.4 380.2,214.1 380.7,213.7 381.2,213.4 381.7,213.1 382.2,212.8 382.7,212.5 383.2,212.1 383.7,211.8 384.2,211.6 384.7,211.6 385.2,211.5 385.7,211.4 386.2,211.3 386.7,211.2 387.2,211.1 387.7,211.1 388.2,211.0 388.7,210.9 389.2,210.8 389.7,210.7 390.2,210.6 390.7,210.6 391.2,210.5 391.7,210.4 392.2,210.3 392.7,210.2 393.2,210.2 393.7,210.1 394.2,210.0 394.7,209.9 395.2,209.8 395.7,209.7 396.2,209.7 396.7,209.6 397.2,209.7 397.7,209.8 398.2,209.9 398.7,209.9 399.2,210.0 399.7,210.1 400.2,210.2 400.7,210.2 401.2,210.3 401.7,210.4 402.2,210.5 402.7,210.5 403.2,210.6 403.7,210.7 404.2,207.1 404.7,202.6 405.2,198.2 405.7,193.7 406.2,191.0 406.7,189.5 407.2,188.0 407.7,186.6 408.2,185.1 408.7,183.6 409.2,182.4 409.7,182.1 410.2,181.9 410.7,181.6 411.2,181.4 411.7,181.1 412.2,180.9 412.7,180.6 413.2,180.4 413.7,180.1 414.2,179.9 414.7,179.6 415.2,179.4 415.7,179.1 416.2,178.9 416.7,178.6 417.2,178.4 417.7,178.1 418.2,177.9 418.7,177.6 419.2,177.4 419.7,177.1 420.2,176.9 420.7,176.6 421.2,176.4 421.7,176.1 422.2,175.9 422.7,175.6 423.2,175.4 423.7,175.1 424.2,173.1 424.7,171.2 425.2,169.2 425.7,167.3 426.2,165.3 426.7,163.4 427.2,162.4 427.7,162.1 428.2,161.7 428.7,161.4 429.2,161.0 429.7,160.7 430.2,159.5 430.7,157.1 431.2,154.7 431.7,152.3 432.2,149.8 432.7,147.8 433.2,147.3 433.7,146.8 434.2,146.3 434.7,145.8 435.2,145.3 435.7,144.8 436.2,144.7 436.7,144.5 437.2,144.4 437.7,144.3 438.2,144.1 438.7,144.0 439.2,143.9 439.7,143.8 440.2,144.2 440.7,145.0 441.2,145.9 441.7,146.7 442.2,147.6 442.7,148.4 443.2,148.9 443.7,148.9 444.2,148.9 444.7,148.9 445.2,148.9 445.7,148.9 446.2,148.9 446.7,148.9 447.2,148.9 447.7,148.9 448.2,148.9 448.7,148.9 449.2,148.9 449.7,148.9 450.2,148.9 450.7,148.9 451.2,148.9 451.7,148.9 452.2,148.9 452.7,148.9 453.2,148.9 453.7,148.9 454.2,149.0 454.7,149.1 455.2,149.2 455.7,149.2 456.2,149.3 456.7,149.4 457.2,149.5 457.7,149.5 458.2,149.6 458.7,149.7 459.2,149.8 459.7,149.8 460.2,149.9 460.7,150.0 461.2,149.2 461.7,148.2 462.2,147.2 462.7,146.3 463.2,145.3 463.7,144.3 464.2,143.0 464.7,141.4 465.2,139.7 465.7,138.0 466.2,136.3 466.7,134.6 467.2,133.1 467.7,132.2 468.2,131.3 468.7,130.4 469.2,129.5 469.7,128.6 470.2,127.6 470.7,126.7 471.2,125.8 471.7,124.9 472.2,124.0 472.7,123.7 473.2,123.7 473.7,123.6 474.2,123.5 474.7,123.5 475.2,123.4 475.7,123.3 476.2,123.3 476.7,123.2 477.2,123.1 477.7,123.1 478.2,123.0 478.7,122.9 479.2,122.9 479.7,122.8 480.2,122.7 480.7,122.7 481.2,122.6 481.7,122.5 482.2,122.5 482.7,122.4 483.2,122.0 483.7,121.6 484.2,121.1 484.7,120.7 485.2,120.2 485.7,119.8 486.2,119.3 486.7,118.9 487.2,117.9 487.7,116.2 488.2,114.5 488.7,112.8 489.2,111.1 489.7,109.5 490.2,107.9 490.7,106.6 491.2,105.4 491.7,104.1 492.2,102.9 492.7,103.0 493.2,103.0 493.7,103.1 494.2,103.2 494.7,103.3 495.2,103.3 495.7,103.4 496.2,103.5 496.7,103.6 497.2,103.8 497.7,104.0 498.2,104.2 498.7,104.4 499.2,104.6 499.7,104.8 500.2,105.0 500.7,105.1 501.2,105.3 501.7,105.5 502.2,105.7 502.7,105.9 503.2,106.1 503.7,106.3 504.2,106.5 504.7,106.7 505.2,106.9 505.7,107.1 506.2,107.2 506.7,107.4 507.2,107.6 507.7,107.7 508.2,107.9 508.7,108.1 509.2,108.2 509.7,108.4 510.2,108.6 510.7,108.7 511.2,108.9 511.7,109.1 512.2,109.4 512.7,110.7 513.2,111.9 513.7,113.2 514.2,114.4 514.7,114.9 515.2,115.4 515.7,115.9 516.2,116.4 516.7,116.9 517.2,117.4 517.7,117.9 518.2,118.4 518.7,118.6 519.2,118.5 519.7,118.5 520.2,118.4 520.7,118.4 521.2,118.3 521.7,118.3 522.2,118.2 522.7,118.2 523.2,118.1 523.7,118.1 524.2,118.0 524.7,118.0 525.2,117.9 525.7,117.9 526.2,117.8 526.7,117.8 527.2,117.8 527.7,117.7 528.2,117.7 528.7,117.6 529.2,117.8 529.7,118.0 530.2,118.3 530.7,118.5 531.2,118.7 531.7,119.0 532.2,119.2 532.7,119.5 533.2,119.9 533.7,120.8 534.2,121.6 534.7,122.4 535.2,123.2 535.7,124.1 536.2,124.9 536.7,125.4 537.2,125.9 537.7,126.4 538.2,126.9 538.7,127.5 539.2,128.0 539.7,128.5 540.2,129.0 540.7,129.2 541.2,129.4 541.7,129.6 542.2,129.8 542.7,129.9 543.2,130.1 543.7,130.3 544.2,130.4 544.7,130.6 545.2,130.8 545.7,131.0 546.2,131.1 546.7,131.3 547.2,131.7 547.7,132.0 548.2,132.4 548.7,132.8 549.2,133.1 549.7,133.5 550.2,133.9 550.7,134.3 551.2,134.6 551.7,135.0 552.2,135.4 552.7,135.8 553.2,136.2 553.7,136.5 554.2,136.9 554.7,137.3 555.2,137.6 555.7,137.5 556.2,137.3 556.7,137.2 557.2,137.4 557.2,136.9 556.7,137.6 556.2,138.4 555.7,139.1 555.2,139.9 554.7,140.0 554.2,140.0 553.7,140.0 553.2,140.0 552.7,140.1 552.2,140.1 551.7,140.1 551.2,140.1 550.7,140.1 550.2,140.1 549.7,140.1 549.2,140.1 548.7,140.1 548.2,140.1 547.7,140.2 547.2,140.2 546.7,140.2 546.2,140.2 545.7,140.2 545.2,140.2 544.7,140.2 544.2,140.2 543.7,140.2 543.2,140.3 542.7,140.3 542.2,140.3 541.7,140.3 541.2,140.3 540.7,140.5 540.2,140.7 539.7,141.0 539.2,141.3 538.7,141.6 538.2,141.8 537.7,142.1 537.2,142.4 536.7,142.7 536.2,142.9 535.7,143.2 535.2,143.5 534.7,143.8 534.2,144.0 533.7,144.1 533.2,144.2 532.7,144.2 532.2,144.2 531.7,144.2 531.2,144.3 530.7,144.3 530.2,144.3 529.7,144.4 529.2,144.4 528.7,144.4 528.2,144.5 527.7,144.5 527.2,144.5 526.7,144.6 526.2,144.6 525.7,144.6 525.2,144.6 524.7,144.7 524.2,144.7 523.7,144.7 523.2,144.8 522.7,144.8 522.2,145.0 521.7,145.2 521.2,145.5 520.7,145.8 520.2,146.0 519.7,146.2 519.2,146.5 518.7,146.7 518.2,147.0 517.7,147.4 517.2,147.7 516.7,148.0 516.2,148.3 515.7,148.7 515.2,149.0 514.7,149.3 514.2,149.6 513.7,150.0 513.2,150.3 512.7,150.6 512.2,150.9 511.7,151.1 511.2,151.2 510.7,151.4 510.2,151.5 509.7,151.6 509.2,151.7 508.7,151.9 508.2,152.0 507.7,152.1 507.2,152.2 506.7,152.4 506.2,152.5 505.7,152.6 505.2,152.8 504.7,152.9 504.2,153.0 503.7,153.1 503.2,153.3 502.7,153.4 502.2,153.5 501.7,153.6 501.2,153.8 500.7,153.9 500.2,154.0 499.7,154.1 499.2,154.2 498.7,154.2 498.2,154.2 497.7,154.2 497.2,154.2 496.7,154.2 496.2,154.2 495.7,154.2 495.2,154.2 494.7,154.2 494.2,154.2 493.7,154.2 493.2,154.2 492.7,154.3 492.2,154.3 491.7,154.3 491.2,154.3 490.7,154.3 490.2,154.3 489.7,154.3 489.2,154.3 488.7,154.3 488.2,154.3 487.7,154.3 487.2,154.3 486.7,154.3 486.2,154.3 485.7,154.3 485.2,154.3 484.7,154.3 484.2,154.3 483.7,154.3 483.2,154.3 482.7,154.3 482.2,154.3 481.7,154.3 481.2,154.3 480.7,154.3 480.2,154.3 479.7,154.3 479.2,154.4 478.7,154.4 478.2,154.4 477.7,154.4 477.2,154.4 476.7,154.4 476.2,154.4 475.7,154.4 475.2,154.4 474.7,154.4 474.2,154.4 473.7,154.4 473.2,154.4 472.7,154.4 472.2,155.0 471.7,155.6 471.2,156.3 470.7,156.9 470.2,157.5 469.7,158.5 469.2,159.5 468.7,160.5 468.2,161.6 467.7,162.6 467.2,163.6 466.7,165.1 466.2,166.7 465.7,168.4 465.2,170.0 464.7,171.6 464.2,173.2 463.7,174.4 463.2,175.1 462.7,175.9 462.2,176.6 461.7,177.4 461.2,178.2 460.7,178.9 460.2,179.7 459.7,179.7 459.2,179.7 458.7,179.7 458.2,179.7 457.7,179.7 457.2,179.8 456.7,179.8 456.2,179.8 455.7,179.8 455.2,179.8 454.7,179.8 454.2,179.8 453.7,179.8 453.2,179.8 452.7,179.8 452.2,179.9 451.7,179.9 451.2,179.9 450.7,179.9 450.2,179.9 449.7,179.9 449.2,179.9 448.7,179.9 448.2,179.9 447.7,179.9 447.2,180.0 446.7,180.0 446.2,180.0 445.7,180.0 445.2,180.0 444.7,180.0 444.2,180.0 443.7,180.0 443.2,180.0 442.7,180.0 442.2,180.1 441.7,180.1 441.2,180.1 440.7,180.1 440.2,180.1 439.7,180.1 439.2,180.0 438.7,180.0 438.2,179.9 437.7,179.9 437.2,179.9 436.7,179.8 436.2,179.8 435.7,179.8 435.2,179.7 434.7,179.7 434.2,179.6 433.7,179.6 433.2,179.6 432.7,179.5 432.2,179.5 431.7,179.4 431.2,179.4 430.7,179.4 430.2,179.3 429.7,179.4 429.2,179.6 428.7,179.8 428.2,180.0 427.7,180.2 427.2,180.4 426.7,180.6 426.2,180.8 425.7,181.0 425.2,181.2 424.7,182.0 424.2,185.3 423.7,188.5 423.2,191.8 422.7,195.0 422.2,195.0 421.7,195.0 421.2,195.0 420.7,195.0 420.2,195.0 419.7,195.0 419.2,195.0 418.7,195.0 418.2,195.0 417.7,195.0 417.2,195.0 416.7,195.0 416.2,195.0 415.7,195.0 415.2,195.0 414.7,195.0 414.2,195.0 413.7,195.0 413.2,195.0 412.7,195.0 412.2,195.0 411.7,195.0 411.2,195.0 410.7,195.0 410.2,195.0 409.7,195.0 409.2,195.0 408.7,195.5 408.2,196.1 407.7,196.7 407.2,197.4 406.7,198.0 406.2,198.6 405.7,199.2 405.2,199.8 404.7,204.4 404.2,214.9 403.7,223.3 403.2,223.3 402.7,223.3 402.2,223.3 401.7,223.3 401.2,223.3 400.7,223.3 400.2,223.3 399.7,223.3 399.2,223.3 398.7,223.3 398.2,223.3 397.7,223.3 397.2,223.3 396.7,223.3 396.2,223.3 395.7,223.3 395.2,223.3 394.7,223.3 394.2,223.3 393.7,223.3 393.2,223.3 392.7,223.3 392.2,223.3 391.7,223.3 391.2,223.3 390.7,223.3 390.2,223.3 389.7,223.3 389.2,223.3 388.7,223.3 388.2,223.3 387.7,223.3 387.2,223.3 386.7,223.3 386.2,223.3 385.7,223.3 385.2,223.3 384.7,223.3 384.2,223.3 383.7,223.3 383.2,223.3 382.7,223.3 382.2,223.3 381.7,223.3 381.2,223.3 380.7,223.3 380.2,223.3 379.7,223.3 379.2,223.3 378.7,223.3 378.2,223.3 377.7,223.3 377.2,223.3 376.7,223.3 376.2,223.3 375.7,223.3 375.2,223.3 374.7,223.3 374.2,223.3 373.7,223.3 373.2,223.3 372.7,223.3 372.2,223.3" fill="#32c02a" fill-opacity="0.38"/>
<polygon points="557.2,137.4 557.7,137.7 558.2,138.0 558.7,138.3 559.2,138.5 559.7,138.8 560.2,139.1 560.7,139.4 561.2,139.6 561.7,139.9 562.2,140.2 562.7,140.5 563.2,140.7 563.7,141.0 564.2,141.3 564.7,141.6 565.2,141.9 565.7,142.1 566.2,142.4 566.7,142.6 567.2,142.9 567.7,143.1 568.2,143.4 568.7,143.6 569.2,143.9 569.7,144.1 570.2,144.4 570.7,144.6 571.2,144.9 571.7,145.1 572.2,145.4 572.7,145.6 573.2,145.9 573.7,146.1 574.2,146.4 574.7,146.7 575.2,147.0 575.7,147.3 576.2,147.6 576.7,147.9 577.2,148.2 577.7,148.5 578.2,149.5 578.7,150.5 579.2,151.5 579.7,152.5 580.2,153.5 580.7,155.0 581.2,156.5 581.7,158.0 582.2,159.4 582.7,160.7 583.2,162.0 583.7,163.2 584.2,164.1 584.7,164.9 585.2,165.8 585.7,166.7 586.2,167.6 586.7,168.5 587.2,169.3 587.7,170.2 588.2,171.1 588.7,172.0 589.2,172.9 589.7,173.9 590.2,174.9 590.7,175.9 591.2,176.9 591.7,177.9 592.2,178.9 592.7,179.9 593.2,180.9 593.7,181.9 594.2,182.9 594.7,183.9 595.2,184.5 595.7,184.7 596.2,185.0 596.7,185.2 597.2,185.5 597.7,185.7 598.2,186.0 598.7,186.2 599.2,186.5 599.7,186.7 600.2,187.0 600.7,187.2 601.2,187.5 601.7,187.7 602.2,188.0 602.7,188.2 603.2,188.5 603.7,188.7 604.2,189.0 604.7,189.2 605.2,189.4 605.7,189.7 606.2,189.9 606.7,190.9 607.2,192.4 607.7,193.8 608.2,195.3 608.7,196.1 609.2,196.7 609.7,197.3 610.2,198.0 610.7,198.6 611.2,199.2 611.7,199.8 612.2,200.4 612.7,200.8 613.2,201.2 613.7,201.6 614.2,202.0 614.7,202.4 615.2,202.8 615.7,203.2 616.2,203.6 616.7,204.0 617.2,204.2 617.7,204.5 618.2,204.7 618.7,205.0 619.2,205.2 619.7,205.5 620.2,205.7 620.7,205.9 621.2,205.9 621.7,206.0 622.2,206.1 622.7,206.2 623.2,206.3 623.7,206.4 624.2,206.5 624.7,206.6 625.2,206.7 625.7,206.7 626.2,207.0 626.7,207.5 627.2,207.9 627.7,208.4 628.2,208.9 628.7,209.4 629.2,209.8 629.7,210.3 630.2,210.2 630.7,210.0 631.2,209.9 631.7,209.8 632.2,209.6 632.7,209.5 633.2,209.4 633.7,209.3 634.2,209.1 634.7,209.0 635.2,208.9 635.7,208.7 636.2,208.6 636.7,208.5 637.2,208.4 637.7,208.2 638.2,208.1 638.7,208.0 639.2,207.9 639.7,207.7 640.2,207.6 640.7,207.5 641.2,207.4 641.7,207.2 642.2,207.1 642.7,207.0 643.2,206.9 643.7,206.8 644.2,206.6 644.7,206.5 645.2,206.4 645.7,206.0 646.2,205.4 646.7,204.7 647.2,204.1 647.7,203.4 648.2,202.7 648.7,202.3 649.2,201.9 649.7,201.6 650.2,201.2 650.7,201.3 651.2,201.4 651.7,201.6 652.2,201.7 652.7,201.8 653.2,201.9 653.7,202.1 654.2,202.1 654.7,202.1 655.2,202.2 655.7,202.2 656.2,202.2 656.7,202.2 657.2,202.3 657.7,202.3 658.2,202.3 658.7,202.3 659.2,202.4 659.7,202.4 660.2,202.4 660.7,202.4 661.2,202.5 661.7,202.5 662.2,203.1 662.7,203.8 663.2,204.5 663.7,205.3 664.2,206.4 664.7,207.5 665.2,208.3 665.7,208.4 666.2,208.6 666.7,208.7 667.2,208.8 667.7,208.9 668.2,209.0 668.7,209.2 669.2,209.4 669.7,209.6 670.2,209.8 670.7,209.9 671.2,210.1 671.7,210.3 672.2,210.6 672.7,210.8 673.2,211.1 673.7,211.3 674.2,211.6 674.7,211.8 675.2,212.1 675.7,212.3 676.2,212.7 676.7,213.0 677.2,213.3 677.7,213.6 678.2,213.9 678.7,214.2 679.2,215.7 679.7,217.2 680.2,218.7 680.7,219.6 681.2,220.1 681.7,220.6 682.2,221.1 682.7,221.6 683.2,222.0 683.7,222.3 684.2,222.7 684.7,223.0 685.2,223.4 685.7,223.8 686.2,224.3 686.7,224.8 687.2,225.3 687.7,226.1 688.2,227.2 688.7,228.4 689.2,229.0 689.7,229.5 690.2,230.0 690.7,230.5 691.2,231.0 691.7,231.3 692.2,231.7 692.7,232.0 693.2,232.3 693.7,232.6 694.2,232.9 694.7,233.2 695.2,233.6 695.7,234.0 696.2,234.4 696.7,234.8 697.2,235.2 697.7,235.6 698.2,236.0 698.7,236.4 699.2,236.7 699.7,236.8 700.2,237.0 700.7,237.2 701.2,237.4 701.7,237.5 702.2,237.7 702.7,237.9 703.2,238.1 703.7,238.2 704.2,238.4 704.7,238.6 705.2,238.8 705.7,239.0 706.2,239.1 706.7,239.3 707.2,239.5 707.7,239.7 708.2,239.9 708.7,240.1 709.2,240.3 709.7,240.5 710.2,240.6 710.7,240.6 711.2,240.7 711.7,240.7 712.2,240.7 712.7,240.8 713.2,240.8 713.7,240.8 714.2,240.8 714.7,240.9 715.2,240.9 715.7,240.8 716.2,240.6 716.7,240.5 717.2,240.4 717.7,240.3 718.2,240.2 718.7,240.0 719.2,239.9 719.7,239.8 720.2,239.7 720.7,239.5 721.2,239.4 721.7,239.3 722.2,239.2 722.7,239.0 723.2,238.9 723.7,238.8 724.2,238.7 724.7,238.5 725.2,238.4 725.7,238.4 726.2,238.4 726.7,238.4 727.2,238.4 727.7,238.4 728.2,238.4 728.7,238.4 729.2,238.4 729.7,238.4 730.2,238.4 730.7,238.4 731.2,238.4 731.7,238.4 732.2,238.4 732.7,238.4 733.2,238.7 733.7,239.1 734.2,239.4 734.7,239.7 735.2,240.0 735.7,240.4 736.2,240.7 736.7,241.0 737.2,241.4 737.7,241.7 738.2,242.0 738.7,242.3 739.2,242.7 739.7,243.0 740.2,243.3 740.7,242.9 741.2,242.4 741.7,241.8 742.2,241.2 742.7,240.6 743.2,240.0 743.7,239.5 744.2,238.9 744.7,238.3 745.2,237.7 745.7,237.1 746.2,236.5 746.7,235.9 747.2,235.3 747.7,234.7 748.2,234.3 748.7,233.9 749.2,233.5 749.7,233.0 750.2,232.6 750.7,232.2 751.2,231.8 751.7,231.5 752.2,231.5 752.7,231.4 753.2,231.4 753.7,231.3 754.2,231.3 754.7,231.3 755.2,231.2 755.7,231.1 756.2,230.9 756.7,230.7 757.2,230.4 757.7,230.2 758.2,230.0 758.7,229.8 759.2,229.6 759.7,229.6 760.2,229.6 760.7,229.5 761.2,229.5 761.7,229.5 762.2,229.5 762.7,229.4 763.2,229.4 763.7,229.4 764.2,229.4 764.7,229.3 765.2,229.3 765.7,229.3 766.2,229.3 766.7,229.3 767.2,229.2 767.7,229.2 768.2,229.0 768.7,228.4 769.2,227.9 769.7,227.3 770.2,226.7 770.7,226.2 771.2,225.7 771.7,225.2 772.2,224.7 772.7,224.2 773.2,223.9 773.7,224.0 774.2,224.0 774.7,224.1 775.2,224.2 775.7,224.2 776.2,224.3 776.7,224.3 777.2,224.4 777.7,224.5 778.2,224.5 778.7,224.5 779.2,224.4 779.7,224.4 780.2,224.4 780.7,224.3 781.2,224.3 781.7,224.3 782.2,224.3 782.7,224.2 783.2,224.3 783.7,224.8 784.2,225.4 784.7,225.9 785.2,226.5 785.7,227.0 786.2,227.5 786.7,228.1 787.2,228.5 787.7,228.7 788.2,229.0 788.7,229.2 789.2,229.5 789.7,229.6 790.2,229.6 790.7,229.6 791.2,229.6 791.7,229.6 792.2,229.6 792.7,229.6 793.2,229.6 793.2,223.3 792.7,223.3 792.2,223.3 791.7,223.3 791.2,223.3 790.7,223.3 790.2,223.3 789.7,223.3 789.2,223.3 788.7,223.3 788.2,223.3 787.7,223.3 787.2,223.3 786.7,223.3 786.2,223.3 785.7,223.3 785.2,223.3 784.7,223.3 784.2,223.3 783.7,223.3 783.2,223.3 782.7,223.3 782.2,223.3 781.7,223.3 781.2,223.3 780.7,223.3 780.2,223.3 779.7,223.3 779.2,223.3 778.7,223.3 778.2,223.3 777.7,223.3 777.2,223.3 776.7,223.3 776.2,223.3 775.7,223.3 775.2,223.3 774.7,223.3 774.2,223.3 773.7,223.3 773.2,223.3 772.7,223.3 772.2,223.3 771.7,223.3 771.2,223.3 770.7,223.3 770.2,223.3 769.7,223.3 769.2,223.3 768.7,223.3 768.2,223.3 767.7,223.3 767.2,223.3 766.7,223.3 766.2,223.3 765.7,223.3 765.2,223.3 764.7,223.3 764.2,223.3 763.7,223.3 763.2,223.3 762.7,223.3 762.2,223.3 761.7,223.3 761.2,223.3 760.7,223.3 760.2,223.3 759.7,223.3 759.2,223.3 758.7,223.3 758.2,223.3 757.7,223.3 757.2,223.3 756.7,223.3 756.2,223.3 755.7,223.3 755.2,223.3 754.7,223.3 754.2,223.3 753.7,223.3 753.2,223.3 752.7,223.3 752.2,223.3 751.7,223.3 751.2,223.0 750.7,222.7 750.2,222.3 749.7,222.0 749.2,219.1 748.7,216.3 748.2,214.5 747.7,213.5 747.2,212.5 746.7,211.5 746.2,211.3 745.7,211.2 745.2,211.2 744.7,211.2 744.2,211.2 743.7,211.1 743.2,211.1 742.7,211.1 742.2,211.0 741.7,211.0 741.2,211.0 740.7,210.9 740.2,210.9 739.7,210.9 739.2,210.9 738.7,210.8 738.2,210.8 737.7,210.8 737.2,210.7 736.7,210.7 736.2,210.6 735.7,210.3 735.2,210.1 734.7,209.8 734.2,209.6 733.7,209.3 733.2,209.1 732.7,208.8 732.2,208.6 731.7,208.3 731.2,208.2 730.7,208.1 730.2,208.1 729.7,208.0 729.2,207.9 728.7,207.9 728.2,207.8 727.7,207.8 727.2,207.7 726.7,207.7 726.2,207.6 725.7,207.5 725.2,207.5 724.7,207.4 724.2,207.4 723.7,207.3 723.2,207.3 722.7,207.2 722.2,207.1 721.7,207.1 721.2,207.0 720.7,207.0 720.2,206.9 719.7,206.9 719.2,206.8 718.7,206.8 718.2,206.7 717.7,206.7 717.2,206.7 716.7,206.6 716.2,206.6 715.7,206.5 715.2,206.5 714.7,206.5 714.2,206.4 713.7,206.4 713.2,206.3 712.7,206.3 712.2,206.1 711.7,205.9 711.2,205.6 710.7,205.4 710.2,205.1 709.7,204.9 709.2,204.6 708.7,204.4 708.2,204.1 707.7,203.9 707.2,203.7 706.7,203.5 706.2,203.3 705.7,203.2 705.2,203.0 704.7,202.8 704.2,202.6 703.7,202.4 703.2,202.1 702.7,201.8 702.2,201.5 701.7,201.2 701.2,200.9 700.7,200.6 700.2,200.3 699.7,200.1 699.2,199.8 698.7,199.5 698.2,199.2 697.7,198.9 697.2,198.6 696.7,198.3 696.2,198.0 695.7,197.7 695.2,197.4 694.7,197.1 694.2,196.8 693.7,196.5 693.2,196.2 692.7,195.9 692.2,195.6 691.7,195.3 691.2,195.0 690.7,194.7 690.2,194.4 689.7,194.1 689.2,193.8 688.7,193.5 688.2,193.2 687.7,192.9 687.2,192.6 686.7,192.3 686.2,192.0 685.7,191.7 685.2,191.4 684.7,191.1 684.2,190.8 683.7,190.5 683.2,190.2 682.7,189.9 682.2,189.6 681.7,189.3 681.2,189.1 680.7,188.8 680.2,187.7 679.7,186.4 679.2,185.2 678.7,183.9 678.2,182.7 677.7,181.4 677.2,175.7 676.7,170.0 676.2,165.3 675.7,164.6 675.2,164.0 674.7,163.3 674.2,162.6 673.7,162.0 673.2,161.3 672.7,160.7 672.2,160.0 671.7,159.5 671.2,159.1 670.7,158.8 670.2,158.5 669.7,158.1 669.2,157.8 668.7,157.5 668.2,157.1 667.7,156.8 667.2,156.5 666.7,156.1 666.2,155.8 665.7,155.5 665.2,155.1 664.7,154.8 664.2,154.5 663.7,154.1 663.2,153.8 662.7,153.8 662.2,153.8 661.7,153.7 661.2,153.7 660.7,153.7 660.2,153.7 659.7,153.6 659.2,153.6 658.7,153.6 658.2,153.6 657.7,153.5 657.2,153.5 656.7,153.5 656.2,153.5 655.7,153.4 655.2,153.4 654.7,153.4 654.2,153.4 653.7,153.3 653.2,153.3 652.7,153.3 652.2,153.3 651.7,153.3 651.2,153.2 650.7,153.2 650.2,153.2 649.7,153.2 649.2,153.1 648.7,153.1 648.2,153.1 647.7,153.1 647.2,153.0 646.7,153.0 646.2,153.0 645.7,153.0 645.2,152.9 644.7,152.9 644.2,152.8 643.7,152.5 643.2,152.2 642.7,151.9 642.2,151.6 641.7,151.3 641.2,151.0 640.7,150.7 640.2,150.4 639.7,150.1 639.2,149.8 638.7,149.5 638.2,149.4 637.7,149.4 637.2,149.4 636.7,149.4 636.2,149.4 635.7,149.4 635.2,149.4 634.7,149.4 634.2,149.4 633.7,149.4 633.2,149.4 632.7,149.4 632.2,149.4 631.7,149.4 631.2,149.4 630.7,149.4 630.2,149.4 629.7,149.4 629.2,149.4 628.7,149.4 628.2,149.4 627.7,149.4 627.2,149.4 626.7,149.4 626.2,149.4 625.7,149.4 625.2,149.3 624.7,149.3 624.2,149.3 623.7,149.3 623.2,149.3 622.7,149.3 622.2,149.3 621.7,149.3 621.2,149.3 620.7,149.3 620.2,149.3 619.7,149.3 619.2,149.3 618.7,149.3 618.2,149.3 617.7,149.3 617.2,149.3 616.7,149.3 616.2,149.3 615.7,149.3 615.2,149.3 614.7,149.3 614.2,149.3 613.7,149.3 613.2,149.3 612.7,149.3 612.2,149.3 611.7,149.3 611.2,149.2 610.7,149.1 610.2,149.1 609.7,149.0 609.2,149.0 608.7,148.9 608.2,148.5 607.7,148.2 607.2,147.8 606.7,147.4 606.2,147.1 605.7,146.7 605.2,146.4 604.7,146.4 604.2,146.4 603.7,146.4 603.2,146.4 602.7,146.4 602.2,146.4 601.7,146.4 601.2,146.4 600.7,146.4 600.2,146.4 599.7,146.4 599.2,146.4 598.7,146.4 598.2,146.4 597.7,146.4 597.2,146.4 596.7,146.4 596.2,146.4 595.7,146.4 595.2,146.4 594.7,146.4 594.2,146.4 593.7,146.4 593.2,146.4 592.7,146.4 592.2,146.4 591.7,146.4 591.2,146.4 590.7,146.4 590.2,146.2 589.7,145.1 589.2,143.9 588.7,142.8 588.2,141.9 587.7,141.1 587.2,140.2 586.7,139.4 586.2,138.5 585.7,137.7 585.2,136.8 584.7,135.8 584.2,134.8 583.7,133.8 583.2,132.7 582.7,131.7 582.2,130.7 581.7,129.6 581.2,128.4 580.7,127.3 580.2,126.1 579.7,124.9 579.2,123.9 578.7,123.3 578.2,122.7 577.7,122.0 577.2,121.4 576.7,120.8 576.2,121.1 575.7,122.8 575.2,124.5 574.7,126.2 574.2,127.8 573.7,129.0 573.2,130.1 572.7,131.3 572.2,131.4 571.7,131.5 571.2,131.6 570.7,131.7 570.2,131.9 569.7,132.0 569.2,132.1 568.7,132.2 568.2,132.3 567.7,132.4 567.2,132.5 566.7,132.6 566.2,132.8 565.7,132.9 565.2,133.0 564.7,133.1 564.2,133.3 563.7,133.4 563.2,133.6 562.7,133.8 562.2,133.9 561.7,134.1 561.2,134.2 560.7,134.4 560.2,134.5 559.7,134.7 559.2,134.8 558.7,135.0 558.2,135.4 557.7,136.1 557.2,136.9" fill="#f40a14" fill-opacity="0.33"/>
<clipPath id="c_red"><polygon points="160.2,224.9 160.7,224.9 161.2,225.0 161.7,225.0 162.2,225.1 162.7,225.1 163.2,225.1 163.7,225.1 164.2,225.2 164.7,225.2 165.2,225.2 165.7,225.2 166.2,225.2 166.7,225.2 167.2,225.3 167.7,225.3 168.2,225.3 168.7,225.3 169.2,225.3 169.7,225.4 170.2,225.4 170.7,225.4 171.2,225.4 171.7,225.4 172.2,225.4 172.7,225.5 173.2,225.5 173.7,225.5 174.2,225.5 174.7,225.5 175.2,225.6 175.7,225.6 176.2,225.6 176.7,225.6 177.2,225.6 177.7,225.6 178.2,225.7 178.7,225.7 179.2,225.7 179.7,225.7 180.2,225.7 180.7,225.8 181.2,225.8 181.7,225.8 182.2,225.8 182.7,225.8 183.2,225.8 183.7,225.9 184.2,225.9 184.7,225.9 185.2,225.9 185.7,225.9 186.2,226.0 186.7,226.0 187.2,226.0 187.7,226.0 188.2,226.0 188.7,226.0 189.2,226.1 189.7,226.1 190.2,226.1 190.7,227.0 191.2,228.1 191.7,229.2 192.2,230.3 192.7,231.4 193.2,232.5 193.7,233.0 194.2,233.1 194.7,233.3 195.2,233.4 195.7,233.6 196.2,233.7 196.7,233.9 197.2,234.0 197.7,234.2 198.2,234.3 198.7,234.5 199.2,234.6 199.7,234.8 200.2,234.9 200.7,235.1 201.2,235.2 201.7,235.3 202.2,235.4 202.7,235.6 203.2,235.7 203.7,235.8 204.2,235.9 204.7,236.0 205.2,236.2 205.7,236.3 206.2,236.4 206.7,236.6 207.2,236.8 207.7,237.1 208.2,237.3 208.7,237.6 209.2,237.8 209.7,238.1 210.2,238.3 210.7,239.1 211.2,240.3 211.7,241.4 212.2,242.6 212.7,243.0 213.2,243.3 213.7,243.6 214.2,243.8 214.7,244.1 215.2,244.4 215.7,244.6 216.2,244.9 216.7,245.2 217.2,245.5 217.7,245.7 218.2,246.0 218.7,246.3 219.2,246.7 219.7,247.0 220.2,247.3 220.7,247.6 221.2,247.9 221.7,248.2 222.2,248.5 222.7,248.8 223.2,249.2 223.7,249.5 224.2,249.8 224.7,250.1 225.2,250.4 225.7,250.6 226.2,250.6 226.7,250.6 227.2,250.6 227.7,250.6 228.2,250.7 228.7,250.7 229.2,250.7 229.7,250.7 230.2,250.7 230.7,250.7 231.2,250.7 231.7,250.7 232.2,250.7 232.7,250.8 233.2,250.8 233.7,250.8 234.2,250.8 234.7,250.8 235.2,250.8 235.7,250.8 236.2,250.8 236.7,250.8 237.2,250.9 237.7,250.9 238.2,250.9 238.7,250.9 239.2,250.9 239.7,250.9 240.2,250.9 240.7,250.9 241.2,250.9 241.7,250.9 242.2,251.0 242.7,251.0 243.2,251.0 243.7,251.0 244.2,251.0 244.7,251.0 245.2,251.0 245.7,251.0 246.2,251.0 246.7,251.1 247.2,251.1 247.7,251.1 248.2,251.1 248.7,251.1 249.2,251.1 249.7,251.1 250.2,251.1 250.7,251.1 251.2,251.2 251.7,251.2 252.2,251.2 252.7,251.2 253.2,251.2 253.7,251.2 254.2,251.2 254.7,251.2 255.2,251.2 255.7,251.3 256.2,251.3 256.7,251.3 257.2,251.3 257.7,251.3 258.2,251.4 258.7,251.5 259.2,251.6 259.7,251.8 260.2,251.9 260.7,252.1 261.2,252.2 261.7,252.3 262.2,252.5 262.7,252.6 263.2,252.7 263.7,252.8 264.2,252.9 264.7,253.0 265.2,253.2 265.7,253.3 266.2,253.4 266.7,253.5 267.2,253.6 267.7,253.7 268.2,253.8 268.7,253.9 269.2,254.0 269.7,254.1 270.2,254.2 270.7,254.3 271.2,254.4 271.7,254.5 272.2,254.6 272.7,254.7 273.2,254.9 273.7,255.0 274.2,255.1 274.7,255.2 275.2,255.3 275.7,255.4 276.2,255.5 276.7,255.6 277.2,255.7 277.7,255.7 278.2,255.7 278.7,255.7 279.2,255.7 279.7,255.7 280.2,255.7 280.7,255.7 281.2,255.7 281.7,255.7 282.2,255.7 282.7,255.7 283.2,255.7 283.7,255.7 284.2,255.7 284.7,255.7 285.2,255.7 285.7,255.7 286.2,255.7 286.7,255.7 287.2,255.7 287.7,255.7 288.2,255.7 288.7,255.7 289.2,255.7 289.7,255.7 290.2,255.7 290.7,255.7 291.2,255.7 291.7,255.7 292.2,255.7 292.7,255.7 293.2,255.7 293.7,255.7 294.2,255.7 294.7,255.7 295.2,255.7 295.7,255.7 296.2,255.7 296.7,255.7 297.2,255.7 297.7,255.7 298.2,255.7 298.7,255.7 299.2,255.7 299.7,255.7 300.2,255.7 300.7,255.3 301.2,255.0 301.7,254.6 302.2,254.2 302.7,253.9 303.2,253.5 303.7,253.1 304.2,252.7 304.7,251.9 305.2,250.7 305.7,249.4 306.2,248.2 306.7,247.0 307.2,245.8 307.7,244.6 308.2,243.4 308.7,242.2 309.2,241.0 309.7,239.9 310.2,239.3 310.7,238.7 311.2,238.1 311.7,237.5 312.2,236.9 312.2,237.2 311.7,237.4 311.2,237.7 310.7,237.9 310.2,238.4 309.7,238.9 309.2,239.4 308.7,239.9 308.2,240.4 307.7,240.9 307.2,241.4 306.7,241.9 306.2,242.0 305.7,241.8 305.2,241.7 304.7,241.5 304.2,241.3 303.7,241.2 303.2,241.0 302.7,240.8 302.2,240.7 301.7,240.5 301.2,240.3 300.7,240.2 300.2,240.0 299.7,239.8 299.2,239.7 298.7,239.5 298.2,239.4 297.7,239.2 297.2,239.1 296.7,238.9 296.2,238.8 295.7,238.6 295.2,238.5 294.7,238.3 294.2,238.2 293.7,238.0 293.2,237.9 292.7,237.7 292.2,237.6 291.7,237.4 291.2,237.2 290.7,237.0 290.2,236.8 289.7,236.6 289.2,236.4 288.7,236.2 288.2,236.0 287.7,235.8 287.2,235.6 286.7,235.4 286.2,235.2 285.7,235.0 285.2,235.0 284.7,234.9 284.2,234.9 283.7,234.8 283.2,234.8 282.7,234.7 282.2,234.7 281.7,234.6 281.2,234.6 280.7,234.5 280.2,234.5 279.7,234.4 279.2,234.4 278.7,234.3 278.2,234.2 277.7,233.9 277.2,233.7 276.7,233.2 276.2,232.7 275.7,232.2 275.2,231.7 274.7,231.2 274.2,230.7 273.7,230.6 273.2,230.6 272.7,230.6 272.2,230.6 271.7,230.5 271.2,230.5 270.7,230.5 270.2,230.5 269.7,230.5 269.2,230.5 268.7,230.5 268.2,230.5 267.7,230.4 267.2,230.4 266.7,230.4 266.2,230.4 265.7,230.4 265.2,230.4 264.7,230.4 264.2,230.4 263.7,230.3 263.2,230.3 262.7,230.3 262.2,230.3 261.7,230.3 261.2,230.3 260.7,230.3 260.2,230.3 259.7,230.2 259.2,230.2 258.7,230.2 258.2,230.2 257.7,230.2 257.2,230.2 256.7,230.2 256.2,230.2 255.7,230.2 255.2,230.2 254.7,230.2 254.2,230.2 253.7,230.2 253.2,230.2 252.7,230.2 252.2,230.2 251.7,230.2 251.2,230.2 250.7,230.2 250.2,230.2 249.7,230.2 249.2,230.2 248.7,230.2 248.2,230.2 247.7,230.2 247.2,230.2 246.7,230.2 246.2,230.2 245.7,230.2 245.2,230.2 244.7,230.2 244.2,230.2 243.7,230.2 243.2,230.2 242.7,230.2 242.2,230.2 241.7,230.2 241.2,230.2 240.7,230.2 240.2,230.2 239.7,230.2 239.2,230.2 238.7,230.2 238.2,230.2 237.7,230.2 237.2,230.2 236.7,230.2 236.2,230.2 235.7,230.2 235.2,230.2 234.7,230.2 234.2,230.2 233.7,230.2 233.2,230.2 232.7,230.2 232.2,230.2 231.7,230.2 231.2,230.2 230.7,230.2 230.2,230.2 229.7,230.2 229.2,230.2 228.7,230.2 228.2,230.2 227.7,230.2 227.2,230.2 226.7,230.2 226.2,230.2 225.7,230.2 225.2,230.2 224.7,230.2 224.2,230.2 223.7,230.2 223.2,230.2 222.7,230.2 222.2,230.2 221.7,230.2 221.2,230.2 220.7,230.2 220.2,230.2 219.7,230.2 219.2,230.2 218.7,230.2 218.2,230.2 217.7,230.2 217.2,230.2 216.7,230.2 216.2,230.2 215.7,230.2 215.2,230.1 214.7,229.9 214.2,229.8 213.7,229.6 213.2,229.4 212.7,229.2 212.2,229.1 211.7,228.9 211.2,228.1 210.7,227.3 210.2,226.5 209.7,225.7 209.2,224.9 208.7,224.8 208.2,224.6 207.7,224.5 207.2,224.4 206.7,224.2 206.2,224.1 205.7,224.0 205.2,223.8 204.7,223.7 204.2,223.6 203.7,223.4 203.2,223.3 202.7,223.2 202.2,223.0 201.7,222.9 201.2,222.7 200.7,222.6 200.2,222.5 199.7,222.3 199.2,222.2 198.7,222.0 198.2,221.9 197.7,221.8 197.2,221.6 196.7,221.5 196.2,221.3 195.7,221.2 195.2,221.1 194.7,220.9 194.2,220.7 193.7,220.5 193.2,220.3 192.7,220.1 192.2,219.9 191.7,219.7 191.2,219.5 190.7,219.3 190.2,219.1 189.7,219.4 189.2,219.6 188.7,219.8 188.2,220.0 187.7,220.3 187.2,220.5 186.7,220.7 186.2,220.9 185.7,221.2 185.2,221.4 184.7,221.6 184.2,221.8 183.7,222.1 183.2,222.3 182.7,222.5 182.2,222.7 181.7,222.9 181.2,223.2 180.7,223.4 180.2,223.6 179.7,223.6 179.2,223.7 178.7,223.7 178.2,223.7 177.7,223.8 177.2,223.8 176.7,223.8 176.2,223.9 175.7,223.9 175.2,223.9 174.7,224.0 174.2,224.0 173.7,224.0 173.2,224.1 172.7,224.1 172.2,224.1 171.7,224.1 171.2,224.2 170.7,224.2 170.2,224.2 169.7,224.3 169.2,224.3 168.7,224.3 168.2,224.4 167.7,224.4 167.2,224.4 166.7,224.5 166.2,224.5 165.7,224.5 165.2,224.6 164.7,224.6 164.2,224.6 163.7,224.7 163.2,224.7 162.7,224.7 162.2,224.8 161.7,224.8 161.2,224.8 160.7,224.9 160.2,224.9"/><polygon points="345.7,237.3 346.2,237.8 346.7,237.7 347.2,237.5 347.7,237.2 348.2,237.0 348.7,236.7 348.7,236.9 348.2,236.9 347.7,236.9 347.2,236.9 346.7,236.9 346.2,236.9 345.7,236.9"/><polygon points="371.2,227.4 371.7,224.8 372.2,222.2 372.2,223.3 371.7,223.3 371.2,225.8"/><polygon points="557.2,137.4 557.7,137.7 558.2,138.0 558.7,138.3 559.2,138.5 559.7,138.8 560.2,139.1 560.7,139.4 561.2,139.6 561.7,139.9 562.2,140.2 562.7,140.5 563.2,140.7 563.7,141.0 564.2,141.3 564.7,141.6 565.2,141.9 565.7,142.1 566.2,142.4 566.7,142.6 567.2,142.9 567.7,143.1 568.2,143.4 568.7,143.6 569.2,143.9 569.7,144.1 570.2,144.4 570.7,144.6 571.2,144.9 571.7,145.1 572.2,145.4 572.7,145.6 573.2,145.9 573.7,146.1 574.2,146.4 574.7,146.7 575.2,147.0 575.7,147.3 576.2,147.6 576.7,147.9 577.2,148.2 577.7,148.5 578.2,149.5 578.7,150.5 579.2,151.5 579.7,152.5 580.2,153.5 580.7,155.0 581.2,156.5 581.7,158.0 582.2,159.4 582.7,160.7 583.2,162.0 583.7,163.2 584.2,164.1 584.7,164.9 585.2,165.8 585.7,166.7 586.2,167.6 586.7,168.5 587.2,169.3 587.7,170.2 588.2,171.1 588.7,172.0 589.2,172.9 589.7,173.9 590.2,174.9 590.7,175.9 591.2,176.9 591.7,177.9 592.2,178.9 592.7,179.9 593.2,180.9 593.7,181.9 594.2,182.9 594.7,183.9 595.2,184.5 595.7,184.7 596.2,185.0 596.7,185.2 597.2,185.5 597.7,185.7 598.2,186.0 598.7,186.2 599.2,186.5 599.7,186.7 600.2,187.0 600.7,187.2 601.2,187.5 601.7,187.7 602.2,188.0 602.7,188.2 603.2,188.5 603.7,188.7 604.2,189.0 604.7,189.2 605.2,189.4 605.7,189.7 606.2,189.9 606.7,190.9 607.2,192.4 607.7,193.8 608.2,195.3 608.7,196.1 609.2,196.7 609.7,197.3 610.2,198.0 610.7,198.6 611.2,199.2 611.7,199.8 612.2,200.4 612.7,200.8 613.2,201.2 613.7,201.6 614.2,202.0 614.7,202.4 615.2,202.8 615.7,203.2 616.2,203.6 616.7,204.0 617.2,204.2 617.7,204.5 618.2,204.7 618.7,205.0 619.2,205.2 619.7,205.5 620.2,205.7 620.7,205.9 621.2,205.9 621.7,206.0 622.2,206.1 622.7,206.2 623.2,206.3 623.7,206.4 624.2,206.5 624.7,206.6 625.2,206.7 625.7,206.7 626.2,207.0 626.7,207.5 627.2,207.9 627.7,208.4 628.2,208.9 628.7,209.4 629.2,209.8 629.7,210.3 630.2,210.2 630.7,210.0 631.2,209.9 631.7,209.8 632.2,209.6 632.7,209.5 633.2,209.4 633.7,209.3 634.2,209.1 634.7,209.0 635.2,208.9 635.7,208.7 636.2,208.6 636.7,208.5 637.2,208.4 637.7,208.2 638.2,208.1 638.7,208.0 639.2,207.9 639.7,207.7 640.2,207.6 640.7,207.5 641.2,207.4 641.7,207.2 642.2,207.1 642.7,207.0 643.2,206.9 643.7,206.8 644.2,206.6 644.7,206.5 645.2,206.4 645.7,206.0 646.2,205.4 646.7,204.7 647.2,204.1 647.7,203.4 648.2,202.7 648.7,202.3 649.2,201.9 649.7,201.6 650.2,201.2 650.7,201.3 651.2,201.4 651.7,201.6 652.2,201.7 652.7,201.8 653.2,201.9 653.7,202.1 654.2,202.1 654.7,202.1 655.2,202.2 655.7,202.2 656.2,202.2 656.7,202.2 657.2,202.3 657.7,202.3 658.2,202.3 658.7,202.3 659.2,202.4 659.7,202.4 660.2,202.4 660.7,202.4 661.2,202.5 661.7,202.5 662.2,203.1 662.7,203.8 663.2,204.5 663.7,205.3 664.2,206.4 664.7,207.5 665.2,208.3 665.7,208.4 666.2,208.6 666.7,208.7 667.2,208.8 667.7,208.9 668.2,209.0 668.7,209.2 669.2,209.4 669.7,209.6 670.2,209.8 670.7,209.9 671.2,210.1 671.7,210.3 672.2,210.6 672.7,210.8 673.2,211.1 673.7,211.3 674.2,211.6 674.7,211.8 675.2,212.1 675.7,212.3 676.2,212.7 676.7,213.0 677.2,213.3 677.7,213.6 678.2,213.9 678.7,214.2 679.2,215.7 679.7,217.2 680.2,218.7 680.7,219.6 681.2,220.1 681.7,220.6 682.2,221.1 682.7,221.6 683.2,222.0 683.7,222.3 684.2,222.7 684.7,223.0 685.2,223.4 685.7,223.8 686.2,224.3 686.7,224.8 687.2,225.3 687.7,226.1 688.2,227.2 688.7,228.4 689.2,229.0 689.7,229.5 690.2,230.0 690.7,230.5 691.2,231.0 691.7,231.3 692.2,231.7 692.7,232.0 693.2,232.3 693.7,232.6 694.2,232.9 694.7,233.2 695.2,233.6 695.7,234.0 696.2,234.4 696.7,234.8 697.2,235.2 697.7,235.6 698.2,236.0 698.7,236.4 699.2,236.7 699.7,236.8 700.2,237.0 700.7,237.2 701.2,237.4 701.7,237.5 702.2,237.7 702.7,237.9 703.2,238.1 703.7,238.2 704.2,238.4 704.7,238.6 705.2,238.8 705.7,239.0 706.2,239.1 706.7,239.3 707.2,239.5 707.7,239.7 708.2,239.9 708.7,240.1 709.2,240.3 709.7,240.5 710.2,240.6 710.7,240.6 711.2,240.7 711.7,240.7 712.2,240.7 712.7,240.8 713.2,240.8 713.7,240.8 714.2,240.8 714.7,240.9 715.2,240.9 715.7,240.8 716.2,240.6 716.7,240.5 717.2,240.4 717.7,240.3 718.2,240.2 718.7,240.0 719.2,239.9 719.7,239.8 720.2,239.7 720.7,239.5 721.2,239.4 721.7,239.3 722.2,239.2 722.7,239.0 723.2,238.9 723.7,238.8 724.2,238.7 724.7,238.5 725.2,238.4 725.7,238.4 726.2,238.4 726.7,238.4 727.2,238.4 727.7,238.4 728.2,238.4 728.7,238.4 729.2,238.4 729.7,238.4 730.2,238.4 730.7,238.4 731.2,238.4 731.7,238.4 732.2,238.4 732.7,238.4 733.2,238.7 733.7,239.1 734.2,239.4 734.7,239.7 735.2,240.0 735.7,240.4 736.2,240.7 736.7,241.0 737.2,241.4 737.7,241.7 738.2,242.0 738.7,242.3 739.2,242.7 739.7,243.0 740.2,243.3 740.7,242.9 741.2,242.4 741.7,241.8 742.2,241.2 742.7,240.6 743.2,240.0 743.7,239.5 744.2,238.9 744.7,238.3 745.2,237.7 745.7,237.1 746.2,236.5 746.7,235.9 747.2,235.3 747.7,234.7 748.2,234.3 748.7,233.9 749.2,233.5 749.7,233.0 750.2,232.6 750.7,232.2 751.2,231.8 751.7,231.5 752.2,231.5 752.7,231.4 753.2,231.4 753.7,231.3 754.2,231.3 754.7,231.3 755.2,231.2 755.7,231.1 756.2,230.9 756.7,230.7 757.2,230.4 757.7,230.2 758.2,230.0 758.7,229.8 759.2,229.6 759.7,229.6 760.2,229.6 760.7,229.5 761.2,229.5 761.7,229.5 762.2,229.5 762.7,229.4 763.2,229.4 763.7,229.4 764.2,229.4 764.7,229.3 765.2,229.3 765.7,229.3 766.2,229.3 766.7,229.3 767.2,229.2 767.7,229.2 768.2,229.0 768.7,228.4 769.2,227.9 769.7,227.3 770.2,226.7 770.7,226.2 771.2,225.7 771.7,225.2 772.2,224.7 772.7,224.2 773.2,223.9 773.7,224.0 774.2,224.0 774.7,224.1 775.2,224.2 775.7,224.2 776.2,224.3 776.7,224.3 777.2,224.4 777.7,224.5 778.2,224.5 778.7,224.5 779.2,224.4 779.7,224.4 780.2,224.4 780.7,224.3 781.2,224.3 781.7,224.3 782.2,224.3 782.7,224.2 783.2,224.3 783.7,224.8 784.2,225.4 784.7,225.9 785.2,226.5 785.7,227.0 786.2,227.5 786.7,228.1 787.2,228.5 787.7,228.7 788.2,229.0 788.7,229.2 789.2,229.5 789.7,229.6 790.2,229.6 790.7,229.6 791.2,229.6 791.7,229.6 792.2,229.6 792.7,229.6 793.2,229.6 793.2,223.3 792.7,223.3 792.2,223.3 791.7,223.3 791.2,223.3 790.7,223.3 790.2,223.3 789.7,223.3 789.2,223.3 788.7,223.3 788.2,223.3 787.7,223.3 787.2,223.3 786.7,223.3 786.2,223.3 785.7,223.3 785.2,223.3 784.7,223.3 784.2,223.3 783.7,223.3 783.2,223.3 782.7,223.3 782.2,223.3 781.7,223.3 781.2,223.3 780.7,223.3 780.2,223.3 779.7,223.3 779.2,223.3 778.7,223.3 778.2,223.3 777.7,223.3 777.2,223.3 776.7,223.3 776.2,223.3 775.7,223.3 775.2,223.3 774.7,223.3 774.2,223.3 773.7,223.3 773.2,223.3 772.7,223.3 772.2,223.3 771.7,223.3 771.2,223.3 770.7,223.3 770.2,223.3 769.7,223.3 769.2,223.3 768.7,223.3 768.2,223.3 767.7,223.3 767.2,223.3 766.7,223.3 766.2,223.3 765.7,223.3 765.2,223.3 764.7,223.3 764.2,223.3 763.7,223.3 763.2,223.3 762.7,223.3 762.2,223.3 761.7,223.3 761.2,223.3 760.7,223.3 760.2,223.3 759.7,223.3 759.2,223.3 758.7,223.3 758.2,223.3 757.7,223.3 757.2,223.3 756.7,223.3 756.2,223.3 755.7,223.3 755.2,223.3 754.7,223.3 754.2,223.3 753.7,223.3 753.2,223.3 752.7,223.3 752.2,223.3 751.7,223.3 751.2,223.0 750.7,222.7 750.2,222.3 749.7,222.0 749.2,219.1 748.7,216.3 748.2,214.5 747.7,213.5 747.2,212.5 746.7,211.5 746.2,211.3 745.7,211.2 745.2,211.2 744.7,211.2 744.2,211.2 743.7,211.1 743.2,211.1 742.7,211.1 742.2,211.0 741.7,211.0 741.2,211.0 740.7,210.9 740.2,210.9 739.7,210.9 739.2,210.9 738.7,210.8 738.2,210.8 737.7,210.8 737.2,210.7 736.7,210.7 736.2,210.6 735.7,210.3 735.2,210.1 734.7,209.8 734.2,209.6 733.7,209.3 733.2,209.1 732.7,208.8 732.2,208.6 731.7,208.3 731.2,208.2 730.7,208.1 730.2,208.1 729.7,208.0 729.2,207.9 728.7,207.9 728.2,207.8 727.7,207.8 727.2,207.7 726.7,207.7 726.2,207.6 725.7,207.5 725.2,207.5 724.7,207.4 724.2,207.4 723.7,207.3 723.2,207.3 722.7,207.2 722.2,207.1 721.7,207.1 721.2,207.0 720.7,207.0 720.2,206.9 719.7,206.9 719.2,206.8 718.7,206.8 718.2,206.7 717.7,206.7 717.2,206.7 716.7,206.6 716.2,206.6 715.7,206.5 715.2,206.5 714.7,206.5 714.2,206.4 713.7,206.4 713.2,206.3 712.7,206.3 712.2,206.1 711.7,205.9 711.2,205.6 710.7,205.4 710.2,205.1 709.7,204.9 709.2,204.6 708.7,204.4 708.2,204.1 707.7,203.9 707.2,203.7 706.7,203.5 706.2,203.3 705.7,203.2 705.2,203.0 704.7,202.8 704.2,202.6 703.7,202.4 703.2,202.1 702.7,201.8 702.2,201.5 701.7,201.2 701.2,200.9 700.7,200.6 700.2,200.3 699.7,200.1 699.2,199.8 698.7,199.5 698.2,199.2 697.7,198.9 697.2,198.6 696.7,198.3 696.2,198.0 695.7,197.7 695.2,197.4 694.7,197.1 694.2,196.8 693.7,196.5 693.2,196.2 692.7,195.9 692.2,195.6 691.7,195.3 691.2,195.0 690.7,194.7 690.2,194.4 689.7,194.1 689.2,193.8 688.7,193.5 688.2,193.2 687.7,192.9 687.2,192.6 686.7,192.3 686.2,192.0 685.7,191.7 685.2,191.4 684.7,191.1 684.2,190.8 683.7,190.5 683.2,190.2 682.7,189.9 682.2,189.6 681.7,189.3 681.2,189.1 680.7,188.8 680.2,187.7 679.7,186.4 679.2,185.2 678.7,183.9 678.2,182.7 677.7,181.4 677.2,175.7 676.7,170.0 676.2,165.3 675.7,164.6 675.2,164.0 674.7,163.3 674.2,162.6 673.7,162.0 673.2,161.3 672.7,160.7 672.2,160.0 671.7,159.5 671.2,159.1 670.7,158.8 670.2,158.5 669.7,158.1 669.2,157.8 668.7,157.5 668.2,157.1 667.7,156.8 667.2,156.5 666.7,156.1 666.2,155.8 665.7,155.5 665.2,155.1 664.7,154.8 664.2,154.5 663.7,154.1 663.2,153.8 662.7,153.8 662.2,153.8 661.7,153.7 661.2,153.7 660.7,153.7 660.2,153.7 659.7,153.6 659.2,153.6 658.7,153.6 658.2,153.6 657.7,153.5 657.2,153.5 656.7,153.5 656.2,153.5 655.7,153.4 655.2,153.4 654.7,153.4 654.2,153.4 653.7,153.3 653.2,153.3 652.7,153.3 652.2,153.3 651.7,153.3 651.2,153.2 650.7,153.2 650.2,153.2 649.7,153.2 649.2,153.1 648.7,153.1 648.2,153.1 647.7,153.1 647.2,153.0 646.7,153.0 646.2,153.0 645.7,153.0 645.2,152.9 644.7,152.9 644.2,152.8 643.7,152.5 643.2,152.2 642.7,151.9 642.2,151.6 641.7,151.3 641.2,151.0 640.7,150.7 640.2,150.4 639.7,150.1 639.2,149.8 638.7,149.5 638.2,149.4 637.7,149.4 637.2,149.4 636.7,149.4 636.2,149.4 635.7,149.4 635.2,149.4 634.7,149.4 634.2,149.4 633.7,149.4 633.2,149.4 632.7,149.4 632.2,149.4 631.7,149.4 631.2,149.4 630.7,149.4 630.2,149.4 629.7,149.4 629.2,149.4 628.7,149.4 628.2,149.4 627.7,149.4 627.2,149.4 626.7,149.4 626.2,149.4 625.7,149.4 625.2,149.3 624.7,149.3 624.2,149.3 623.7,149.3 623.2,149.3 622.7,149.3 622.2,149.3 621.7,149.3 621.2,149.3 620.7,149.3 620.2,149.3 619.7,149.3 619.2,149.3 618.7,149.3 618.2,149.3 617.7,149.3 617.2,149.3 616.7,149.3 616.2,149.3 615.7,149.3 615.2,149.3 614.7,149.3 614.2,149.3 613.7,149.3 613.2,149.3 612.7,149.3 612.2,149.3 611.7,149.3 611.2,149.2 610.7,149.1 610.2,149.1 609.7,149.0 609.2,149.0 608.7,148.9 608.2,148.5 607.7,148.2 607.2,147.8 606.7,147.4 606.2,147.1 605.7,146.7 605.2,146.4 604.7,146.4 604.2,146.4 603.7,146.4 603.2,146.4 602.7,146.4 602.2,146.4 601.7,146.4 601.2,146.4 600.7,146.4 600.2,146.4 599.7,146.4 599.2,146.4 598.7,146.4 598.2,146.4 597.7,146.4 597.2,146.4 596.7,146.4 596.2,146.4 595.7,146.4 595.2,146.4 594.7,146.4 594.2,146.4 593.7,146.4 593.2,146.4 592.7,146.4 592.2,146.4 591.7,146.4 591.2,146.4 590.7,146.4 590.2,146.2 589.7,145.1 589.2,143.9 588.7,142.8 588.2,141.9 587.7,141.1 587.2,140.2 586.7,139.4 586.2,138.5 585.7,137.7 585.2,136.8 584.7,135.8 584.2,134.8 583.7,133.8 583.2,132.7 582.7,131.7 582.2,130.7 581.7,129.6 581.2,128.4 580.7,127.3 580.2,126.1 579.7,124.9 579.2,123.9 578.7,123.3 578.2,122.7 577.7,122.0 577.2,121.4 576.7,120.8 576.2,121.1 575.7,122.8 575.2,124.5 574.7,126.2 574.2,127.8 573.7,129.0 573.2,130.1 572.7,131.3 572.2,131.4 571.7,131.5 571.2,131.6 570.7,131.7 570.2,131.9 569.7,132.0 569.2,132.1 568.7,132.2 568.2,132.3 567.7,132.4 567.2,132.5 566.7,132.6 566.2,132.8 565.7,132.9 565.2,133.0 564.7,133.1 564.2,133.3 563.7,133.4 563.2,133.6 562.7,133.8 562.2,133.9 561.7,134.1 561.2,134.2 560.7,134.4 560.2,134.5 559.7,134.7 559.2,134.8 558.7,135.0 558.2,135.4 557.7,136.1 557.2,136.9"/></clipPath>
<g clip-path="url(#c_red)" opacity="0.5">
<rect x="18" y="197.3" width="3" height="3.4" fill="#14e614"/>
<rect x="28" y="233.2" width="3" height="0.9" fill="#14e614"/>
<rect x="31" y="221.2" width="3" height="9.3" fill="#14e614"/>
<rect x="38" y="220.2" width="3" height="8.2" fill="#14e614"/>
<rect x="41" y="216.7" width="3" height="1.6" fill="#14e614"/>
<rect x="48" y="221.2" width="3" height="1.3" fill="#14e614"/>
<rect x="61" y="233.4" width="3" height="5.0" fill="#14e614"/>
<rect x="64" y="234.1" width="3" height="1.5" fill="#14e614"/>
<rect x="67" y="229.3" width="3" height="5.4" fill="#14e614"/>
<rect x="74" y="230.0" width="3" height="1.3" fill="#14e614"/>
<rect x="77" y="227.1" width="3" height="2.5" fill="#14e614"/>
<rect x="90" y="233.1" width="3" height="2.0" fill="#14e614"/>
<rect x="93" y="229.3" width="3" height="3.5" fill="#14e614"/>
<rect x="120" y="248.4" width="3" height="2.5" fill="#14e614"/>
<rect x="126" y="251.3" width="3" height="1.5" fill="#14e614"/>
<rect x="133" y="253.0" width="3" height="1.4" fill="#14e614"/>
<rect x="146" y="259.3" width="3" height="3.8" fill="#14e614"/>
<rect x="149" y="258.1" width="3" height="1.6" fill="#14e614"/>
<rect x="152" y="258.9" width="3" height="0.8" fill="#14e614"/>
<rect x="156" y="252.8" width="3" height="5.7" fill="#14e614"/>
<rect x="159" y="255.0" width="3" height="0.8" fill="#14e614"/>
<rect x="162" y="251.3" width="3" height="2.1" fill="#14e614"/>
<rect x="172" y="258.4" width="3" height="5.0" fill="#14e614"/>
<rect x="189" y="257.2" width="3" height="6.3" fill="#14e614"/>
<rect x="202" y="260.3" width="3" height="3.1" fill="#14e614"/>
<rect x="205" y="259.1" width="3" height="0.8" fill="#14e614"/>
<rect x="208" y="257.2" width="3" height="2.1" fill="#14e614"/>
<rect x="211" y="249.2" width="3" height="2.5" fill="#14e614"/>
<rect x="215" y="238.5" width="3" height="10.7" fill="#14e614"/>
<rect x="221" y="230.5" width="3" height="9.8" fill="#14e614"/>
<rect x="225" y="211.1" width="3" height="17.9" fill="#14e614"/>
<rect x="234" y="229.0" width="3" height="9.6" fill="#14e614"/>
<rect x="238" y="229.0" width="3" height="1.9" fill="#14e614"/>
<rect x="244" y="244.1" width="3" height="4.4" fill="#14e614"/>
<rect x="251" y="238.8" width="3" height="5.3" fill="#14e614"/>
<rect x="254" y="230.9" width="3" height="3.1" fill="#14e614"/>
<rect x="264" y="219.6" width="3" height="15.1" fill="#14e614"/>
<rect x="267" y="219.6" width="3" height="3.1" fill="#14e614"/>
<rect x="271" y="212.0" width="3" height="6.3" fill="#14e614"/>
<rect x="280" y="216.2" width="3" height="7.2" fill="#14e614"/>
<rect x="284" y="211.1" width="3" height="5.0" fill="#14e614"/>
<rect x="287" y="194.4" width="3" height="17.6" fill="#14e614"/>
<rect x="303" y="201.1" width="3" height="14.7" fill="#14e614"/>
<rect x="310" y="202.0" width="3" height="4.4" fill="#14e614"/>
<rect x="313" y="195.3" width="3" height="5.8" fill="#14e614"/>
<rect x="320" y="145.8" width="3" height="55.1" fill="#14e614"/>
<rect x="323" y="131.3" width="3" height="14.5" fill="#14e614"/>
<rect x="336" y="129.1" width="3" height="12.6" fill="#14e614"/>
<rect x="339" y="99.1" width="3" height="30.3" fill="#14e614"/>
<rect x="353" y="138.3" width="3" height="12.6" fill="#14e614"/>
<rect x="359" y="141.4" width="3" height="15.1" fill="#14e614"/>
<rect x="362" y="137.0" width="3" height="5.7" fill="#14e614"/>
<rect x="372" y="146.4" width="3" height="11.3" fill="#14e614"/>
<rect x="375" y="111.1" width="3" height="35.3" fill="#14e614"/>
<rect x="379" y="87.1" width="3" height="27.1" fill="#14e614"/>
<rect x="382" y="73.3" width="3" height="15.1" fill="#14e614"/>
<rect x="392" y="81.2" width="3" height="8.4" fill="#14e614"/>
<rect x="405" y="90.3" width="3" height="23.9" fill="#14e614"/>
<rect x="415" y="89.7" width="3" height="21.4" fill="#14e614"/>
<rect x="418" y="86.3" width="3" height="3.4" fill="#14e614"/>
<rect x="425" y="128.9" width="3" height="1.9" fill="#14e614"/>
<rect x="431" y="156.0" width="3" height="1.3" fill="#14e614"/>
<rect x="434" y="150.3" width="3" height="5.0" fill="#14e614"/>
<rect x="438" y="143.4" width="3" height="6.9" fill="#14e614"/>
<rect x="444" y="128.0" width="3" height="26.1" fill="#14e614"/>
<rect x="451" y="145.9" width="3" height="3.1" fill="#14e614"/>
<rect x="457" y="150.9" width="3" height="11.3" fill="#14e614"/>
<rect x="464" y="159.4" width="3" height="2.9" fill="#14e614"/>
<rect x="467" y="160.0" width="3" height="1.6" fill="#14e614"/>
<rect x="477" y="163.1" width="3" height="13.2" fill="#14e614"/>
<rect x="487" y="168.8" width="3" height="10.7" fill="#14e614"/>
<rect x="490" y="161.9" width="3" height="4.4" fill="#14e614"/>
<rect x="507" y="227.3" width="3" height="3.8" fill="#14e614"/>
<rect x="510" y="210.4" width="3" height="15.1" fill="#14e614"/>
<rect x="526" y="227.3" width="3" height="3.8" fill="#14e614"/>
<rect x="530" y="218.2" width="3" height="9.2" fill="#14e614"/>
<rect x="533" y="216.4" width="3" height="2.5" fill="#14e614"/>
<rect x="543" y="214.8" width="3" height="12.0" fill="#14e614"/>
<rect x="556" y="220.4" width="3" height="4.4" fill="#14e614"/>
<rect x="559" y="212.2" width="3" height="8.8" fill="#14e614"/>
<rect x="562" y="192.1" width="3" height="20.8" fill="#14e614"/>
<rect x="572" y="203.8" width="3" height="4.4" fill="#14e614"/>
<rect x="589" y="235.9" width="3" height="2.5" fill="#14e614"/>
<rect x="605" y="259.2" width="3" height="3.8" fill="#14e614"/>
<rect x="612" y="259.8" width="3" height="1.9" fill="#14e614"/>
<rect x="615" y="256.3" width="3" height="3.1" fill="#14e614"/>
<rect x="618" y="253.2" width="3" height="3.1" fill="#14e614"/>
<rect x="635" y="248.1" width="3" height="12.1" fill="#14e614"/>
<rect x="638" y="246.9" width="3" height="2.0" fill="#14e614"/>
<rect x="644" y="259.2" width="3" height="1.5" fill="#14e614"/>
<rect x="648" y="254.2" width="3" height="6.0" fill="#14e614"/>
<rect x="651" y="252.9" width="3" height="1.0" fill="#14e614"/>
<rect x="654" y="243.5" width="3" height="7.6" fill="#14e614"/>
<rect x="658" y="224.0" width="3" height="20.1" fill="#14e614"/>
<rect x="661" y="215.8" width="3" height="8.2" fill="#14e614"/>
<rect x="664" y="203.2" width="3" height="12.0" fill="#14e614"/>
<rect x="680" y="207.6" width="3" height="3.8" fill="#14e614"/>
<rect x="690" y="232.8" width="3" height="2.5" fill="#14e614"/>
<rect x="703" y="251.4" width="3" height="5.3" fill="#14e614"/>
<rect x="707" y="247.9" width="3" height="3.1" fill="#14e614"/>
</g>
<polyline points="19.4,239.5 29.9,239.5 33.0,235.5 37.2,232.8 43.5,230.2 47.8,227.6 54.1,227.1 70.9,225.5 79.3,225.0 83.5,222.3 87.7,220.2 96.1,216.5 102.0,213.9 108.8,212.3 112.1,217.7 134.7,218.5 139.8,223.2 154.0,224.4 162.6,225.1 190.3,226.1 193.4,232.9 200.4,235.0 206.6,236.5 210.4,238.4 212.3,242.8 218.0,245.9 225.5,250.6 258.0,251.3 262.6,252.6 277.2,255.7 300.2,255.7 304.4,252.6 309.6,240.0 312.8,236.2 321.2,235.4 325.3,233.7 342.1,233.7 346.3,237.9 350.5,235.8 358.8,233.7 370.3,232.0 372.4,221.2 375.6,217.0 383.9,211.7 396.5,209.6 403.8,210.7 405.9,191.9 409.1,182.4 417.4,178.3 423.7,175.1 426.9,162.6 430.0,160.5 432.6,147.9 435.7,144.8 439.9,143.7 443.0,148.9 453.5,148.9 460.8,150.0 464.0,143.7 467.1,133.3 472.3,123.8 482.8,122.4 487.0,118.6 490.1,108.1 492.2,102.9 496.4,103.5 505.8,107.1 512.1,109.2 514.2,114.4 518.4,118.6 528.8,117.6 533.0,119.6 536.2,124.9 540.3,129.1 546.7,131.3 550.1,133.8 555.1,137.6 556.8,137.2 565.1,141.8 573.5,146.0 577.7,148.5 580.2,153.5 581.9,158.6 583.6,163.0 589.1,172.7 594.9,184.3 603.6,188.7 606.4,190.0 608.3,195.6 612.0,200.2 616.7,204.0 620.4,205.8 626.0,206.8 629.7,210.3 634.3,209.1 639.9,207.7 645.5,206.3 648.3,202.6 650.2,201.2 653.9,202.1 661.8,202.5 663.5,204.9 665.1,208.3 668.5,209.1 671.9,210.4 675.3,212.1 678.7,214.2 680.4,219.3 682.9,221.8 685.4,223.5 687.5,225.6 688.8,228.6 691.3,231.1 694.7,233.2 697.3,235.3 699.0,236.6 705.3,238.8 710.0,240.6 715.1,240.9 720.1,239.7 725.2,238.4 732.7,238.4 736.5,240.9 740.3,243.4 744.1,239.0 747.8,234.6 751.6,231.5 755.4,231.2 759.2,229.6 768.0,229.2 770.5,226.4 773.0,223.9 778.0,224.5 783.1,224.2 786.9,228.3 789.4,229.6 793.2,229.6" fill="none" stroke="#2f66d6" stroke-width="1.15" stroke-linejoin="round" />
<polyline points="46.7,230.4 70.9,230.4 75.1,228.1 84.6,225.5 102.0,225.5 154.0,224.9 160.1,224.9 180.2,223.6 185.2,221.4 190.3,219.1 195.3,221.1 205.4,223.9 209.2,224.9 211.7,228.9 215.5,230.2 258.0,230.2 274.1,230.6 277.2,233.7 278.5,234.3 285.6,235.0 291.9,237.5 300.2,240.0 306.5,242.1 310.7,237.9 312.8,236.9 370.3,236.9 371.4,223.3 403.8,223.3 404.9,200.2 409.1,195.0 422.7,195.0 424.8,181.4 430.0,179.3 440.1,180.1 460.2,179.7 464.0,173.9 467.1,163.8 470.2,157.5 472.7,154.4 499.5,154.2 512.1,151.0 518.4,146.9 522.6,144.8 534.1,144.1 541.0,140.3 555.1,140.0 558.4,135.1 565.1,133.0 572.7,131.3 574.3,127.6 576.4,120.4 579.4,124.2 581.9,130.1 585.2,136.8 588.6,142.6 590.3,146.4 605.3,146.4 608.7,148.9 612.0,149.3 638.5,149.4 644.3,152.9 663.2,153.8 671.9,159.6 676.3,165.4 677.7,181.4 680.6,188.7 687.9,193.0 703.8,202.5 707.6,203.8 712.6,206.3 720.1,206.9 731.5,208.2 736.5,210.7 746.6,211.3 748.5,215.1 749.7,222.0 751.6,223.3 793.2,223.3" fill="none" stroke="#3a4ae8" stroke-width="1.1" stroke-linejoin="round" stroke-dasharray="4.8 3.2"/>
<line x1="251.9" y1="179.95" x2="648.5" y2="179.9" stroke="#000" stroke-width="1.95" stroke-dasharray="4.15 4.026"/>
<line x1="107.9" y1="264.0" x2="608" y2="264.95" stroke="#000" stroke-width="1.95" stroke-dasharray="4.15 3.981"/>
<line x1="609" x2="735" y1="264" y2="264" stroke="#000" stroke-width="1.9"/>
<line x1="606.1" y1="256.6" x2="743.8" y2="201.6" stroke="#000" stroke-width="2.0"/>
<line x1="386" y1="56.3" x2="796" y2="252" stroke="#0808f8" stroke-width="2.25"/>
<line x1="576" x2="811.5" y1="251.55" y2="251.55" stroke="#000" stroke-width="1.1" stroke-dasharray="7 2 2 2"/>
<text x="581.6" y="249.4" fill="#000">20.00</text>
<rect x="704.6" y="233.5" width="9.9" height="8.9" fill="#ecc0c0"/>
<polygon points="707.5,242.4 714.5,242.4 714.5,236.5 711,238.5" fill="#dfe9f6"/>
<rect x="705.2" y="239.8" width="3" height="1.6" fill="#f02020"/>
<line x1="706" y1="237.8" x2="710.8" y2="236.4" stroke="#111" stroke-width="0.9"/>
<rect x="704.6" y="233.5" width="9.9" height="8.9" fill="none" stroke="#000" stroke-width="1.15"/>
<line x1="695.2" y1="227.3" x2="710.3" y2="232" stroke="#111" stroke-width="0.85"/>
<line x1="695.2" y1="240.4" x2="706" y2="237.8" stroke="#111" stroke-width="0.85"/>
</g>
<text x="19" y="32.6" fill="#f80808">MM (40)</text>
<text x="79" y="32.6" fill="#eba048">BOLL (20, 2)</text>
<text x="162" y="32.6" fill="#c4161c">SUPERTREND (10, 3)</text>
<text x="298" y="32.6" fill="#1a1ae6">MM (200)</text>
<text x="364.5" y="32.6" fill="#1f78c8">ICHIMOKU (26, 9)</text>
<g clip-path="url(#c_rsi)">
<polyline points="19.0,316.0 22.6,330.0 25.7,342.6 28.8,342.2 32.0,333.8 35.1,337.4 39.3,331.7 41.8,330.9 46.6,333.2 51.9,334.9 57.7,342.8 61.9,339.0 64.8,338.6 68.2,334.6 71.1,336.7 77.4,333.8 82.2,336.7 86.4,338.6 89.1,338.0 93.7,333.8 97.9,340.5 103.1,340.7 110.0,344.3 113.6,344.9 117.2,348.9 120.9,343.9 124.1,346.4 127.2,344.9 129.7,346.0 133.9,346.0 137.7,349.1 140.8,349.7 143.9,351.4 147.1,345.3 152.3,344.7 156.5,338.0 159.6,337.4 163.2,334.9 167.0,338.0 170.1,345.3 172.8,339.0 176.4,340.9 179.9,342.6 183.1,342.0 185.9,342.8 189.8,335.7 193.0,337.6 198.8,339.9 203.0,336.7 206.2,335.5 209.3,329.6 215.6,317.9 218.7,320.0 225.6,306.6 229.2,319.6 232.3,327.5 234.8,323.8 238.6,323.8 241.7,333.8 245.3,331.7 249.1,331.7 254.9,325.0 258.5,325.9 261.6,328.6 264.8,322.1 267.9,320.8 271.0,319.0 275.2,320.6 277.9,325.4 281.5,322.3 284.6,320.6 287.8,315.0 290.9,320.6 294.1,324.6 297.6,325.9 301.0,328.0 303.9,321.9 307.7,323.8 310.8,323.1 313.9,320.0 317.1,323.3 320.6,310.2 324.4,307.4 327.6,308.3 331.1,310.8 334.9,311.2 340.1,305.6 344.3,307.7 347.4,317.5 349.7,325.4 353.1,322.7 356.7,329.0 360.0,324.4 363.0,323.8 366.3,325.4 369.9,330.7 372.6,328.0 376.2,319.6 379.3,316.4 383.1,313.9 386.0,319.0 389.8,319.6 392.9,317.5 396.0,322.1 399.2,324.4 402.7,328.0 406.1,322.7 408.6,323.3 412.8,328.8 415.9,323.8 418.6,323.3 421.6,334.2 425.8,333.6 429.1,340.5 432.7,338.8 435.8,337.6 438.9,335.9 442.1,337.6 444.6,332.1 448.4,336.3 452.1,334.2 455.1,338.8 457.8,335.9 462.0,337.6 467.2,336.5 471.4,338.4 475.2,340.7 478.1,337.0 481.4,338.8 485.0,340.7 488.1,336.3 491.3,334.9 494.4,341.6 497.6,345.3 500.7,346.0 503.8,348.5 507.4,348.3 510.7,341.8 514.3,342.6 517.4,344.7 519.7,344.9 523.8,346.8 527.3,343.2 531.5,340.1 536.3,339.5 539.9,343.0 543.4,338.0 546.8,337.6 550.3,339.9 554.5,340.5 557.7,338.0 560.2,334.2 563.1,326.9 566.0,330.0 569.8,333.8 572.7,331.7 576.1,336.3 579.6,339.5 582.8,341.6 585.9,342.8 589.7,342.0 593.3,344.7 597.0,346.2 600.6,347.4 603.7,348.9 606.9,346.8 610.0,347.4 613.1,346.8 616.3,344.7 619.4,342.8 622.6,343.9 625.7,345.5 628.8,345.7 632.0,344.7 634.7,335.9 638.9,335.7 641.8,342.0 645.2,340.5 648.7,338.0 651.9,337.0 655.0,329.0 658.1,321.7 661.3,319.6 664.8,315.0 667.6,316.4 671.1,318.5 674.5,319.2 677.4,319.6 679.9,317.5 682.1,317.5 685.2,326.9 688.4,333.8 692.6,333.6 695.7,332.8 698.4,334.9 700.9,343.6 704.7,340.5 708.3,338.8" fill="none" stroke="#1a68c8" stroke-width="1.2" stroke-linejoin="round" />
<line x1="127.2" y1="352.3" x2="805.6" y2="348.3" stroke="#000" stroke-width="1.15"/>
<line x1="707.9" y1="335" x2="715.1" y2="342.8" stroke="#000" stroke-width="1.1"/><polygon points="721.0,349.3 711.4,346.1 718.7,339.5" fill="#000"/>
<line x1="723.8" y1="349.2" x2="735.5" y2="330.3" stroke="#000" stroke-width="1.1"/><polygon points="740.1,322.8 739.6,332.9 731.3,327.7" fill="#000"/>
</g>
<text x="19" y="300.8" fill="#1a68c8">RSI (14)</text>
<g clip-path="url(#c_vor)">
<polyline points="19.0,443.6 22.6,437.8 25.7,433.2 28.8,424.8 32.0,428.4 35.1,429.0 38.9,430.5 41.4,429.0 45.2,424.8 48.7,424.2 51.9,425.9 54.4,425.2 58.1,419.0 67.6,419.0 70.7,424.2 74.9,431.5 78.0,429.0 81.2,425.6 85.3,423.6 90.6,419.0 93.7,424.6 97.9,424.8 100.6,419.0 104.2,427.3 107.9,427.7 110.5,423.6 114.2,416.4 117.8,416.9 120.9,415.8 124.1,413.1 127.2,414.3 129.7,417.5 133.5,415.8 136.6,416.9 140.2,409.5 143.9,407.9 147.1,413.7 150.6,415.4 153.4,417.9 156.5,423.1 159.6,426.3 162.8,431.5 166.6,431.1 170.1,428.0 172.8,427.7 175.8,423.8 179.1,425.9 180.0,426.3 183.1,427.7 186.3,431.1 190.0,438.4 193.0,436.7 196.3,432.1 199.9,429.8 203.0,426.7 206.2,427.3 209.3,425.6 212.4,433.6 215.6,443.0 218.7,445.7 222.9,455.6 226.0,461.4 229.2,457.7 231.9,448.3 234.8,442.0 238.6,443.6 241.7,445.5 245.3,438.8 248.6,440.5 251.6,440.9 254.9,442.4 258.5,439.3 262.0,435.7 265.4,438.4 267.9,436.7 271.0,430.9 275.2,430.7 278.4,438.2 281.5,437.8 284.6,439.9 287.8,452.0 290.9,452.4 294.1,446.2 297.2,443.6 301.0,438.8 303.9,442.4 307.7,444.5 310.8,439.3 313.9,439.9 317.1,439.3 320.2,449.3 323.4,454.5 326.5,456.6 330.3,453.5 333.8,446.2 337.0,450.3 340.1,459.3 343.2,458.1 347.0,456.6 349.7,450.8 352.5,443.0 355.9,443.6 359.4,443.0 363.0,442.0 366.3,436.7 369.9,430.0 373.0,429.8 376.2,435.7 379.7,441.6 383.1,442.0 386.6,437.8 390.2,434.2 392.9,436.7 396.0,438.4 399.2,443.0 402.3,440.9 405.5,440.5 408.6,444.5 412.4,437.8 415.3,439.9 418.6,442.6 422.2,435.7 425.3,423.8 428.5,422.1 432.0,414.8 434.8,419.4 437.9,417.9 441.5,417.9 445.2,422.1 448.8,425.9 452.1,421.5 455.1,416.9 458.4,419.6 462.0,419.0 465.1,414.8 468.3,415.8 471.8,423.6 474.9,419.0 478.1,431.5 481.4,429.8 485.0,425.9 488.1,426.3 491.3,423.1 494.8,423.8 498.2,421.0 501.1,415.8 504.9,414.3 508.0,412.7 511.2,416.9 514.3,417.5 517.4,415.8 519.7,416.4 523.8,409.5 526.9,408.9 530.5,413.7 533.6,417.5 536.7,415.8 539.9,412.3 543.4,421.5 546.8,429.8 550.3,431.9 553.5,432.6 556.6,427.3 559.8,426.9 562.9,443.0 566.5,445.5 569.8,443.0 573.4,439.9 576.5,434.6 579.6,430.5 582.8,426.9 586.6,425.2 590.1,423.1 593.3,422.1 596.4,420.0 599.5,420.4 602.7,419.0 605.8,414.8 608.9,399.1 612.7,395.9 616.3,402.2 619.4,403.3 622.6,404.7 626.1,404.7 628.8,409.1 632.0,412.7 635.1,423.1 638.9,425.9 641.8,429.4 644.9,425.9 648.1,429.0 651.4,434.2 655.0,443.0 658.1,451.4 661.3,453.5 664.8,455.2 667.6,454.5 671.1,456.2 674.5,456.6 677.4,452.0 679.9,449.9 683.1,448.3 686.3,444.1 689.4,440.9 693.6,440.3 696.7,438.8 699.9,435.7 702.6,428.4 705.1,421.0 708.3,416.9" fill="none" stroke="#c81e1e" stroke-width="1.2" stroke-linejoin="round" />
<polyline points="19.0,416.9 22.6,434.6 26.3,443.6 29.9,439.9 33.4,437.2 37.2,436.5 41.4,437.4 45.6,438.8 51.9,438.8 55.0,443.6 58.6,445.1 64.8,445.1 67.6,438.8 70.7,426.9 73.8,430.0 77.0,429.4 81.2,432.6 85.3,435.7 88.5,436.7 91.6,440.5 94.8,439.9 97.9,439.5 100.6,429.0 104.2,432.6 107.3,436.7 110.5,438.8 113.6,443.0 116.7,450.3 119.9,449.9 123.0,449.3 126.8,456.6 129.7,447.8 133.5,446.2 136.6,447.2 139.8,453.5 142.9,451.4 146.0,450.8 149.2,449.9 153.4,443.6 156.5,440.3 159.6,437.8 162.8,431.1 165.9,433.6 170.1,440.5 172.8,433.2 175.8,438.8 179.1,438.2 180.0,437.8 183.1,435.7 186.3,432.6 190.0,431.1 193.0,429.0 196.3,433.2 199.9,434.6 203.0,435.7 206.2,436.1 209.3,437.4 212.4,430.5 215.6,421.0 218.7,415.8 221.9,414.8 225.0,415.2 229.2,416.9 232.3,421.0 235.5,421.5 238.6,419.0 241.7,424.8 244.9,425.2 248.6,424.2 251.6,425.2 254.9,423.6 257.9,423.1 261.6,427.3 264.8,431.5 267.9,426.7 271.0,424.8 275.2,423.8 278.4,424.2 281.5,425.6 284.6,423.6 287.8,416.2 290.9,417.5 294.1,420.4 297.6,417.9 301.4,424.2 303.9,424.6 307.7,421.0 310.8,419.0 313.9,423.1 317.1,426.3 320.6,426.9 324.4,411.6 326.9,406.8 330.7,413.7 334.9,413.3 339.1,411.2 343.2,413.7 346.8,411.0 349.7,417.5 353.1,422.1 357.3,425.9 360.5,424.8 363.6,421.0 367.2,420.0 369.9,432.6 373.0,436.7 376.2,432.6 379.3,427.3 382.9,422.1 386.0,424.6 389.8,426.7 392.9,425.9 396.0,421.0 399.6,421.5 402.7,421.0 405.5,422.7 409.0,422.1 412.8,427.7 415.9,423.1 419.1,417.9 422.2,429.8 425.3,436.1 428.9,444.5 432.0,443.6 435.4,440.9 438.5,444.5 442.1,445.1 445.2,442.0 448.8,441.6 452.1,440.3 455.1,446.2 458.2,442.0 461.6,443.4 464.7,449.7 468.3,438.8 471.4,442.0 474.9,435.3 478.1,435.7 481.4,436.7 485.0,437.8 488.1,437.8 491.3,435.7 494.4,438.8 497.6,446.6 500.7,446.2 504.2,448.9 507.4,449.9 510.7,446.2 514.3,445.7 517.4,443.6 519.7,445.1 523.8,450.3 526.9,450.8 530.5,447.2 533.6,446.2 536.7,447.6 539.9,443.6 543.4,437.8 546.8,430.5 550.3,426.9 553.5,427.7 556.6,431.5 559.8,435.7 562.9,427.3 566.5,423.1 569.8,420.0 573.4,426.3 576.5,429.8 579.6,435.1 582.8,437.4 586.6,436.7 590.1,438.2 593.3,442.0 596.4,442.4 599.5,442.0 602.7,443.6 605.8,446.8 608.9,453.5 612.7,460.4 616.3,456.2 619.4,454.5 622.6,455.2 626.1,451.4 628.8,449.9 632.0,446.2 635.1,442.4 638.9,435.3 641.8,436.7 644.9,438.4 648.1,430.5 651.4,426.9 655.0,429.4 658.1,422.1 661.3,415.8 664.8,414.3 668.2,408.1 671.1,411.6 674.5,411.0 677.4,413.7 679.9,414.1 682.1,414.8 685.2,421.5 688.4,422.7 694.7,423.1 697.8,425.9 700.9,431.5 704.1,436.7 708.3,440.9" fill="none" stroke="#1e961e" stroke-width="1.2" stroke-linejoin="round" />
</g>
<text x="19" y="392.1" fill="#148c14">VORTEX (14)</text>
<g clip-path="url(#c_pgo)">
<ellipse cx="116.8" cy="544.9" rx="12.9" ry="6.5" fill="#f2f6a2" fill-opacity="0.5"/>
<line x1="103.89999999999999" x2="129.7" y1="545.2" y2="545.2" stroke="#58a858" stroke-opacity="0.8" stroke-dasharray="1.2 0.8"/>
<ellipse cx="503.9" cy="547.8" rx="12.9" ry="6.5" fill="#f2f6a2" fill-opacity="0.5"/>
<line x1="491.0" x2="516.8" y1="545.2" y2="545.2" stroke="#58a858" stroke-opacity="0.8" stroke-dasharray="1.2 0.8"/>
<ellipse cx="700.9" cy="545.8" rx="13.7" ry="6.5" fill="#f2f6a2" fill-opacity="0.5"/>
<line x1="687.1999999999999" x2="714.6" y1="545.2" y2="545.2" stroke="#58a858" stroke-opacity="0.8" stroke-dasharray="1.2 0.8"/>
<polyline points="19.0,513.1 22.6,528.8 25.7,543.4 28.8,543.0 32.0,533.0 35.1,537.6 39.3,529.8 41.8,528.4 48.7,529.4 51.9,530.5 57.7,537.8 61.9,533.0 64.8,531.9 68.2,525.2 71.1,528.4 77.4,524.8 82.2,529.4 87.9,533.0 93.7,522.9 97.9,532.6 103.1,534.6 108.4,539.9 111.5,540.9 114.6,540.3 117.2,545.1 120.9,539.3 124.1,543.0 127.2,537.2 130.3,538.6 133.9,537.2 137.0,543.4 139.8,541.8 143.5,541.3 147.1,533.6 152.3,530.9 156.5,522.1 159.6,520.8 163.2,517.7 167.0,521.5 170.1,533.4 172.8,526.1 176.4,528.8 179.9,531.1 183.1,529.8 185.9,531.5 189.8,524.0 193.0,526.3 196.3,528.8 199.3,528.4 203.0,525.2 206.2,523.6 209.3,516.2 212.4,507.9 215.6,499.1 218.7,502.2 221.9,492.2 226.0,486.9 229.2,507.9 232.3,518.3 234.8,514.1 238.6,514.1 241.7,529.4 245.3,527.7 249.1,529.8 252.2,524.6 254.9,521.0 258.5,522.9 262.0,526.7 264.8,515.6 267.9,514.8 271.0,508.9 275.2,511.6 277.9,518.7 281.5,513.7 284.6,510.0 287.8,504.1 290.9,513.7 294.1,520.0 297.6,521.5 301.0,524.6 303.9,516.2 308.1,520.8 310.8,519.4 313.9,515.2 317.1,519.8 320.6,496.3 324.0,492.8 327.6,495.9 331.1,500.5 333.8,502.6 337.0,501.2 340.1,494.9 344.3,503.3 347.4,514.1 349.7,524.2 353.1,522.5 356.7,529.4 360.0,525.6 363.0,525.6 366.3,528.4 369.9,533.6 373.0,527.7 376.2,516.2 379.3,511.6 382.9,507.2 386.0,513.1 389.8,513.7 392.9,510.6 396.0,515.6 399.2,519.4 402.7,525.2 406.1,519.0 408.6,520.4 412.8,526.7 415.9,521.9 418.6,521.9 422.2,535.5 425.8,536.1 429.1,542.8 432.7,539.9 435.8,537.2 438.9,535.1 442.1,537.8 445.2,527.1 448.8,534.6 452.1,530.9 455.1,536.1 458.2,530.3 462.0,532.6 465.1,528.8 468.3,528.4 471.4,530.5 475.2,534.4 478.1,528.8 481.4,531.9 485.0,533.6 488.1,528.4 490.6,524.2 494.0,537.2 497.6,541.8 500.7,543.0 504.5,547.2 508.0,545.1 511.2,535.7 514.3,535.7 517.4,539.3 519.7,539.3 523.8,540.3 527.3,534.0 531.5,527.1 536.3,522.5 539.9,528.2 543.4,520.8 546.8,520.0 550.3,526.1 554.5,527.7 557.7,523.6 560.2,518.3 563.1,507.2 566.5,514.6 569.8,520.8 572.7,519.0 576.1,526.7 579.6,533.4 582.8,536.7 585.9,539.7 589.7,538.2 593.3,543.0 597.0,546.6 600.6,549.7 603.1,552.4 606.2,548.7 610.0,546.6 613.1,543.4 616.3,537.2 619.4,531.5 622.6,531.9 625.7,534.4 628.8,533.0 632.0,530.9 634.7,515.6 638.9,514.1 641.8,527.7 645.2,526.7 648.7,522.1 651.9,520.8 655.0,513.7 658.1,500.5 661.3,498.4 664.8,492.8 667.6,496.3 671.1,501.6 674.5,505.3 677.4,507.9 679.9,507.2 682.1,507.9 685.2,519.4 688.4,530.9 692.6,531.9 695.7,531.9 698.4,538.2 700.9,548.0 704.7,544.5 708.3,542.8" fill="none" stroke="#1a68c8" stroke-width="1.2" stroke-linejoin="round" />
<ellipse cx="116.8" cy="544.9" rx="12.9" ry="6.5" fill="#f2f6a2" fill-opacity="0.12" stroke="#1a1a1a" stroke-width="1.05"/>
<ellipse cx="503.9" cy="547.8" rx="12.9" ry="6.5" fill="#f2f6a2" fill-opacity="0.12" stroke="#1a1a1a" stroke-width="1.05"/>
<ellipse cx="700.9" cy="545.8" rx="13.7" ry="6.5" fill="#f2f6a2" fill-opacity="0.12" stroke="#1a1a1a" stroke-width="1.05"/>
<line x1="114.3" y1="546.4" x2="766.9" y2="549.4" stroke="#111" stroke-width="1.05"/>
</g>
<text x="19" y="482.8" fill="#1a68c8">PGO (14)</text>
<rect x="14.7" y="21.5" width="796.6999999999999" height="262.85" fill="none" stroke="#929292" stroke-width="1"/>
<rect x="14.7" y="288.65" width="796.6999999999999" height="86.70000000000005" fill="none" stroke="#929292" stroke-width="1"/>
<rect x="14.7" y="379.65" width="796.6999999999999" height="86.70000000000005" fill="none" stroke="#929292" stroke-width="1"/>
<rect x="14.7" y="470.65" width="796.6999999999999" height="86.85000000000002" fill="none" stroke="#929292" stroke-width="1"/>
<text x="816.3" y="33.8" fill="#666">100.00</text>
<text x="816.3" y="89.3" fill="#666">80.00</text>
<text x="816.3" y="144.3" fill="#666">60.00</text>
<text x="816.3" y="198.8" fill="#666">40.000</text>
<text x="816.3" y="307.5" fill="#666">80.00</text>
<text x="816.3" y="342.9" fill="#666">40.000</text>
<svg x="812" y="360" width="48" height="16" overflow="hidden"><text x="4.6" y="19.3" fill="#666">0</text></svg>
<text x="816.3" y="445.5" fill="#666">0.0600</text>
<text x="816.3" y="497" fill="#666">3.000</text>
<text x="816.3" y="526.8" fill="#666">0</text>
<text x="816.3" y="556.3" fill="#666">-3.000</text>
<rect x="813" y="51.0" width="47" height="16.799999999999997" fill="#008000"/><text x="816.4" y="63.8" fill="#fff" stroke="#fff" stroke-width="0.45">90.64</text>
<rect x="813" y="240.9" width="47" height="17.099999999999994" fill="#606060"/><text x="816.4" y="253.9" fill="#fff" stroke="#fff" stroke-width="0.45">21.250</text>
<rect x="813" y="258" width="47" height="17" fill="#c00000"/><text x="816.4" y="271.2" fill="#fff" stroke="#fff" stroke-width="0.45">15.000</text>
<rect x="813" y="325.2" width="47" height="16.80000000000001" fill="#0a5ac8"/><text x="816.4" y="338" fill="#fff" stroke="#fff" stroke-width="0.45">41.866</text>
<rect x="813" y="403.3" width="47" height="16.30000000000001" fill="#c00000"/><text x="816.4" y="415.8" fill="#fff" stroke="#fff" stroke-width="0.45">0.0857</text>
<rect x="813" y="427.3" width="47" height="16.30000000000001" fill="#0a8c0a"/><text x="816.4" y="439.9" fill="#fff" stroke="#fff" stroke-width="0.45">0.0622</text>
<rect x="813" y="536.5" width="47" height="16.399999999999977" fill="#0a5ac8"/><text x="816.4" y="548.8" fill="#fff" stroke="#fff" stroke-width="0.45">-1.797</text>
<text x="102.0" y="573.8" fill="#666" text-anchor="middle">11/2009</text>
<text x="180.6" y="573.8" fill="#666" text-anchor="middle">11/2011</text>
<text x="259.2" y="573.8" fill="#666" text-anchor="middle">11/2013</text>
<text x="337.8" y="573.8" fill="#666" text-anchor="middle">11/2015</text>
<text x="416.4" y="573.8" fill="#666" text-anchor="middle">11/2017</text>
<text x="495.0" y="573.8" fill="#666" text-anchor="middle">11/2019</text>
<text x="573.6" y="573.8" fill="#666" text-anchor="middle">11/2021</text>
<text x="652.2" y="573.8" fill="#666" text-anchor="middle">11/2023</text>
<text x="730.8" y="573.8" fill="#666" text-anchor="middle">11/2025</text>
</svg>
</body></html>
